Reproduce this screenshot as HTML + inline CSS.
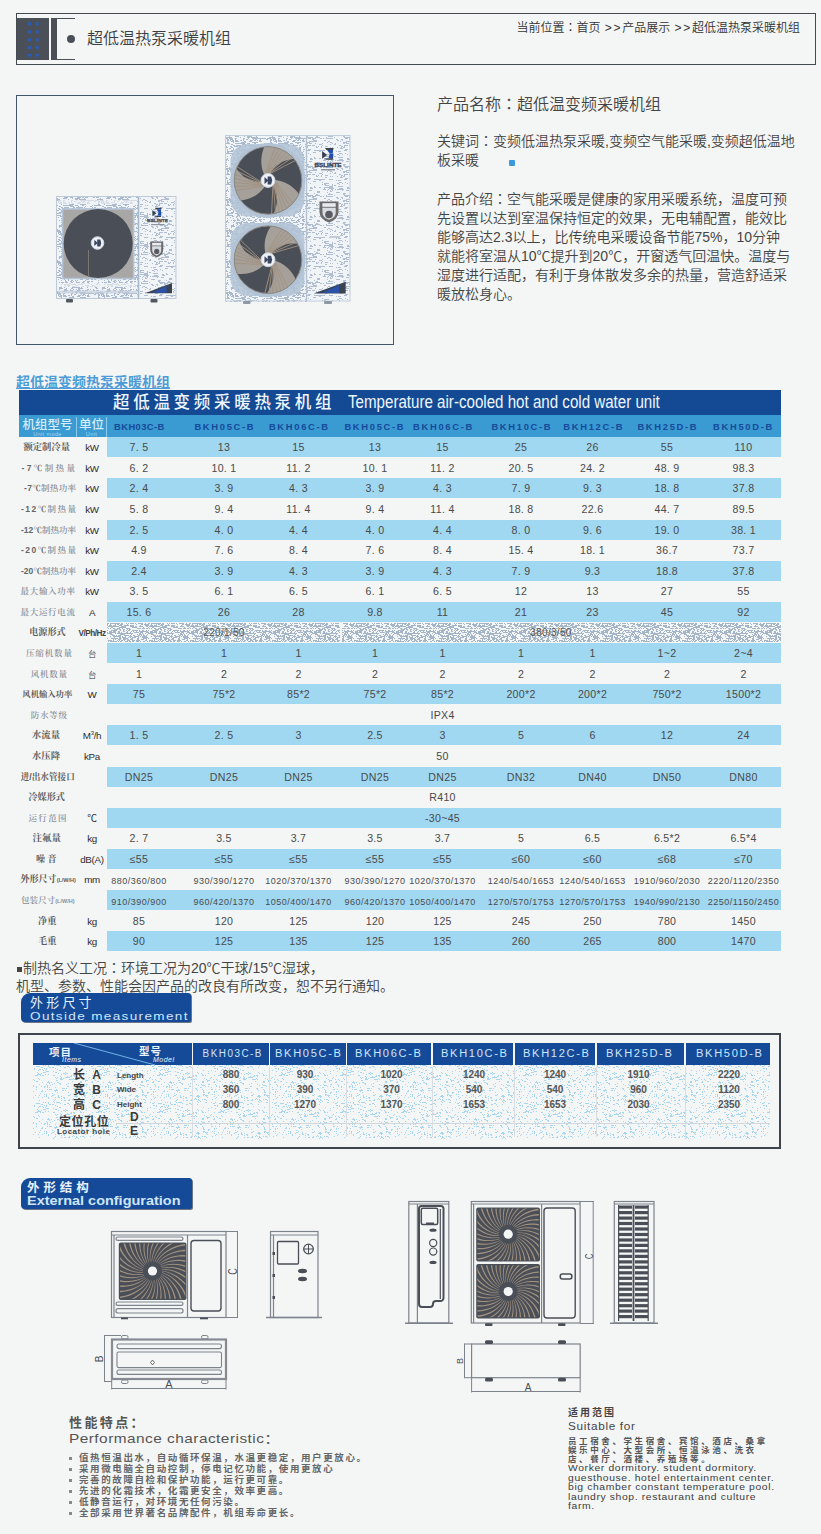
<!DOCTYPE html>
<html lang="zh-CN">
<head>
<meta charset="utf-8">
<title>超低温热泵采暖机组</title>
<style>
html,body{margin:0;padding:0;}
body{width:821px;height:1534px;background:#f4f6f6;position:relative;overflow:hidden;
 font-family:"Liberation Sans","Noto Sans CJK SC",sans-serif;color:#444;}
.abs{position:absolute;}
.jc{font-family:"Noto Sans CJK JP",sans-serif;}
/* header */
#hd{left:16px;top:13px;width:798px;height:50px;border:1px solid #434a52;}
#hd .blk{left:0;top:4px;width:32px;height:42px;background:#4b5058;}
#hd .bar{left:34px;top:4px;width:6px;height:42px;background:#4b5058;}
#hd .l1{left:40px;top:4px;width:18px;height:1px;background:#4b5058;}
#hd .l2{left:40px;top:45px;width:18px;height:1px;background:#4b5058;}
#hd .dot{left:50px;top:21px;width:8px;height:8px;border-radius:50%;background:#4b5058;}
#hd .ttl{font-weight:350;left:70px;top:13px;font-size:16px;line-height:24px;color:#3c3f44;white-space:nowrap;}
#hd .gt{letter-spacing:1.7px;margin-left:1px;}
#hd .crumb{font-weight:350;right:15px;top:4px;font-size:12px;line-height:18px;color:#333;white-space:nowrap;}
/* product */
#pbox{left:16px;top:95px;width:376px;height:248px;border:1px solid #44546a;}
#pname{left:437px;top:91px;font-size:16px;line-height:24px;color:#444;font-weight:350;white-space:nowrap;}
#pkey{font-weight:350;left:437px;top:131px;width:380px;white-space:nowrap;font-size:14px;line-height:19px;color:#444;}
#pintro{font-weight:350;left:437px;top:188.8px;width:380px;white-space:nowrap;font-size:14px;line-height:19px;color:#444;}

/* main table */
#cap{left:16px;top:373px;font-size:14px;line-height:18px;font-weight:bold;color:#4d9cd8;text-decoration:underline;white-space:nowrap;}
#tb{left:19px;top:390px;width:762px;height:560px;}
#tb .tt{left:0;top:0;width:762px;height:25px;background:#144a94;color:#fff;}
#tb .t1{left:94px;top:0px;font-size:16.5px;line-height:24px;font-weight:500;letter-spacing:3.7px;white-space:nowrap;color:#eef6ff;}
#tb .t2{left:329px;top:-0.5px;font-size:17.5px;line-height:24px;white-space:nowrap;transform-origin:0 50%;transform:scaleX(.864);color:#eef6ff;}
#tb .th{left:0;top:25px;width:762px;height:22px;background:#3a9ad2;}
#tb .th .h1{left:0;top:3px;width:57px;text-align:center;font-size:12.5px;line-height:14px;font-weight:500;color:#d4ecfb;letter-spacing:0;white-space:nowrap;}
#tb .th .h2{left:58px;top:3px;width:29px;text-align:center;font-size:12.5px;line-height:14px;font-weight:500;color:#d4ecfb;white-space:nowrap;}
#tb .th i{display:block;font-style:normal;font-weight:normal;font-size:5.5px;line-height:6px;letter-spacing:.4px;color:#a9d8f3;margin-top:-1px;}
#tb .th .vs{top:2px;width:1px;height:20px;background:#8fcdee;}
#tb .th .m{top:.5px;transform:translateX(-50%);font-size:9.4px;line-height:22px;font-weight:bold;color:#174a9a;white-space:nowrap;}
#tb .r{left:0;width:762px;height:20px;}
#tb .r .bg{left:88px;top:0;width:674px;height:20px;}
#tb .r.bl .bg{background:#a0d8f2;}
#tb .r.pw .bg{display:none;}
#tb .r .lb{top:0;font-family:"Liberation Sans","Noto Serif CJK SC",serif;line-height:20px;white-space:nowrap;}
#tb .r .lb.d{font-weight:bold;font-size:9.5px;color:#5c5c5c;}
#tb .r .lb.l{font-weight:600;font-size:8.5px;color:#8a8f96;}
#tb .r .lb b{color:#666;font-weight:bold;}
#tb .r .lb em{font-style:normal;font-size:5.5px;letter-spacing:0;font-family:"Liberation Sans",sans-serif;}
#tb .r .un{left:58px;top:0;width:30px;text-align:center;font-size:9.8px;font-weight:normal;line-height:21px;color:#2c2c2c;white-space:nowrap;letter-spacing:-.3px;}
#tb .r .un u{text-decoration:none;font-size:8.2px;letter-spacing:-.5px;font-weight:bold;color:#444;}
#tb .r .un s{text-decoration:none;font-size:8.5px;color:#666;}
#tb .r .un sup{font-size:6px;line-height:0;}
#tb .r .v{top:0;transform:translateX(-50%);font-size:10.6px;line-height:21px;color:#4a4a4a;white-space:nowrap;letter-spacing:.3px;z-index:2;}
#tb .r.sm .v{font-size:9px;letter-spacing:.5px;top:1.5px;}
#tb .r.pw .v{font-size:10px;color:#555;}

/* notes + outside table */
#note{font-weight:350;left:16px;top:958px;font-size:14px;line-height:18px;color:#444;white-space:nowrap;}
#note .sq{display:inline-block;width:5px;height:5px;background:#444;margin:0 1px 1px 1px;}
.badge{background:#154a98;border-radius:9px 3px 2px 4px;color:#fff;box-shadow:1px 1px 0 #6b7686;overflow:hidden;}
.badge .c{white-space:nowrap;color:#e6f2fd;}
.badge .e{white-space:nowrap;transform-origin:0 50%;color:#cfe6fa;}
#bd1{left:21px;top:993px;width:170px;height:29px;}
#bd1 .c{left:9px;top:2px;font-size:13px;line-height:15px;letter-spacing:3.2px;}
#bd1 .e{left:9px;top:16px;font-size:11px;line-height:14px;letter-spacing:1.1px;transform:scaleX(1.23);}
#ob{left:18px;top:1033px;width:759px;height:112px;border:2px solid #3e444c;}
#ob .body{left:13px;top:30px;width:737px;height:74px;background:#ebf3f7;}
#ob .hc{top:8px;height:22px;background:#154a98;}
#ob .hm{top:8px;transform:translateX(-50%);font-size:10px;line-height:22px;color:#cfe6fa;letter-spacing:1.5px;padding-left:1.5px;white-space:nowrap;}
#ob .hz{font-size:10.5px;line-height:12px;font-weight:bold;color:#e8f4ff;letter-spacing:1px;white-space:nowrap;}
#ob .he{font-style:italic;font-size:7px;line-height:8px;color:#e8f4ff;letter-spacing:.5px;white-space:nowrap;}
#ob .lz{font-size:12px;line-height:14px;font-weight:bold;color:#3a3a3a;letter-spacing:2px;white-space:nowrap;}
#ob .le{font-size:8px;line-height:11px;font-weight:bold;color:#444;white-space:nowrap;}
#ob .ov{transform:translateX(-50%);font-size:10px;line-height:14px;font-weight:bold;color:#555;white-space:nowrap;}
#ob .vl{top:32px;width:1px;height:70px;background:#dadde1;}
#ob .hl{left:96px;width:654px;height:1px;background:#d3d7db;}

/* config */
#bd2{left:21px;top:1178px;width:171px;height:31px;}
#bd2 .c{left:6px;top:3px;font-size:12.5px;line-height:15px;font-weight:bold;letter-spacing:3.9px;}
#bd2 .e{left:6px;top:16px;font-size:12.5px;line-height:15px;font-weight:bold;transform:scaleX(1.157);}

/* footer */
#f1{left:69px;top:1414px;width:320px;height:110px;color:#555;}
#f1 .fh{left:0;top:0;font-size:13px;line-height:17px;font-weight:bold;letter-spacing:2.4px;white-space:nowrap;color:#555;}
#f1 .fe{left:0;top:16px;font-size:13px;line-height:17px;white-space:nowrap;transform-origin:0 50%;transform:scaleX(1.184);letter-spacing:.4px;color:#555;}
#f1 ul{left:0;top:38px;margin:0;padding:0;list-style:none;}
#f1 li{position:relative;padding-left:10px;font-size:9.5px;line-height:11px;font-weight:bold;letter-spacing:1.6px;white-space:nowrap;color:#666;}
#f1 li:before{content:"";position:absolute;left:0;top:5px;width:3px;height:3px;background:#888;}
#f2{left:568px;top:1405px;width:230px;height:110px;color:#444;}
#f2 .fh{left:0;top:1px;font-size:10px;line-height:14px;font-weight:bold;letter-spacing:2px;white-space:nowrap;}
#f2 .fe{left:0;top:15px;font-size:10.5px;line-height:13px;white-space:nowrap;letter-spacing:.6px;transform-origin:0 50%;transform:scaleX(1.12);color:#444;}
#f2 .fc{left:0;top:32px;font-size:8.5px;line-height:9px;font-weight:bold;letter-spacing:2.6px;white-space:nowrap;color:#555;}
#f2 .fn{left:0;top:59px;font-size:9px;line-height:9.6px;letter-spacing:.55px;white-space:nowrap;color:#3c3c3c;transform-origin:0 0;transform:scaleX(1.148);}
#ksq{left:509px;top:160px;width:6px;height:6px;background:#3a9ad9;border-radius:1px;}
</style>
</head>
<body>
<div id="hd" class="abs">
  <div class="abs blk"></div><svg class="abs" style="left:0;top:0" width="60" height="50"><g fill="#2a5bb5"><rect x="10.8" y="8.3" width="3.4" height="3" rx=".6"/><rect x="18.3" y="8.3" width="3.4" height="3" rx=".6"/><rect x="10.8" y="16.2" width="3.4" height="3" rx=".6"/><rect x="18.3" y="16.2" width="3.4" height="3" rx=".6"/><rect x="10.8" y="24.2" width="3.4" height="3" rx=".6"/><rect x="18.3" y="24.2" width="3.4" height="3" rx=".6"/><rect x="10.8" y="32.1" width="3.4" height="3" rx=".6"/><rect x="18.3" y="32.1" width="3.4" height="3" rx=".6"/><rect x="10.8" y="39.8" width="3.4" height="3" rx=".6"/><rect x="18.3" y="39.8" width="3.4" height="3" rx=".6"/></g></svg><div class="abs bar"></div><div class="abs l1"></div><div class="abs l2"></div>
  <div class="abs dot"></div>
  <div class="abs ttl">超低温热泵采暖机组</div>
  <div class="abs crumb">当前位置<span class="jc" lang="ja">：</span>首页 <span class="gt">&gt;&gt;</span>产品展示 <span class="gt">&gt;&gt;</span>超低温热泵采暖机组</div>
</div>
<div id="pbox" class="abs"></div>
<svg id="photo" class="abs" style="left:17px;top:96px" width="376" height="248" viewBox="17 96 376 248">
<defs><pattern id="pd1" width="43" height="31" patternUnits="userSpaceOnUse"><path d="M0 0h3v1h-3zM5 0h2v1h-2zM8 0h2v1h-2zM15 0h1v1h-1zM21 0h1v1h-1zM25 0h1v1h-1zM37 0h3v1h-3zM12 1h1v1h-1zM18 1h1v1h-1zM22 1h1v1h-1zM25 1h1v1h-1zM28 1h2v1h-2zM32 1h1v1h-1zM34 1h1v1h-1zM42 1h1v1h-1zM1 2h3v1h-3zM5 2h2v1h-2zM22 2h2v1h-2zM27 2h2v1h-2zM30 2h1v1h-1zM33 2h1v1h-1zM40 2h2v1h-2zM1 3h2v1h-2zM12 3h1v1h-1zM16 3h1v1h-1zM18 3h3v1h-3zM22 3h3v1h-3zM28 3h2v1h-2zM33 3h4v1h-4zM39 3h2v1h-2zM2 4h2v1h-2zM11 4h2v1h-2zM19 4h1v1h-1zM26 4h2v1h-2zM31 4h1v1h-1zM38 4h1v1h-1zM40 4h2v1h-2zM5 5h1v1h-1zM10 5h2v1h-2zM13 5h1v1h-1zM18 5h1v1h-1zM21 5h6v1h-6zM28 5h5v1h-5zM35 5h5v1h-5zM0 6h3v1h-3zM6 6h3v1h-3zM21 6h2v1h-2zM24 6h3v1h-3zM32 6h3v1h-3zM42 6h1v1h-1zM1 7h2v1h-2zM4 7h3v1h-3zM8 7h2v1h-2zM11 7h1v1h-1zM18 7h1v1h-1zM22 7h1v1h-1zM25 7h2v1h-2zM29 7h3v1h-3zM39 7h2v1h-2zM1 8h1v1h-1zM9 8h2v1h-2zM16 8h3v1h-3zM21 8h1v1h-1zM29 8h8v1h-8zM38 8h1v1h-1zM10 9h2v1h-2zM16 9h4v1h-4zM23 9h1v1h-1zM28 9h2v1h-2zM35 9h5v1h-5zM1 10h2v1h-2zM4 10h1v1h-1zM7 10h1v1h-1zM16 10h1v1h-1zM21 10h3v1h-3zM27 10h1v1h-1zM30 10h1v1h-1zM33 10h1v1h-1zM35 10h2v1h-2zM0 11h2v1h-2zM7 11h2v1h-2zM10 11h3v1h-3zM21 11h4v1h-4zM27 11h3v1h-3zM34 11h4v1h-4zM39 11h2v1h-2zM42 11h1v1h-1zM14 12h1v1h-1zM20 12h4v1h-4zM29 12h1v1h-1zM32 12h5v1h-5zM41 12h1v1h-1zM11 13h6v1h-6zM25 13h1v1h-1zM32 13h3v1h-3zM36 13h7v1h-7zM0 14h8v1h-8zM9 14h4v1h-4zM14 14h4v1h-4zM20 14h2v1h-2zM28 14h2v1h-2zM33 14h1v1h-1zM37 14h6v1h-6zM2 15h1v1h-1zM8 15h2v1h-2zM12 15h2v1h-2zM15 15h3v1h-3zM20 15h1v1h-1zM28 15h1v1h-1zM31 15h2v1h-2zM38 15h1v1h-1zM40 15h2v1h-2zM1 16h2v1h-2zM12 16h2v1h-2zM15 16h1v1h-1zM17 16h2v1h-2zM20 16h3v1h-3zM25 16h2v1h-2zM28 16h1v1h-1zM35 16h3v1h-3zM39 16h2v1h-2zM42 16h1v1h-1zM1 17h3v1h-3zM12 17h1v1h-1zM16 17h3v1h-3zM20 17h4v1h-4zM29 17h2v1h-2zM34 17h3v1h-3zM12 18h2v1h-2zM18 18h1v1h-1zM26 18h5v1h-5zM37 18h6v1h-6zM6 19h1v1h-1zM8 19h7v1h-7zM20 19h10v1h-10zM32 19h3v1h-3zM39 19h2v1h-2zM4 20h2v1h-2zM16 20h2v1h-2zM27 20h4v1h-4zM35 20h1v1h-1zM42 20h1v1h-1zM6 21h1v1h-1zM8 21h2v1h-2zM18 21h2v1h-2zM21 21h5v1h-5zM30 21h2v1h-2zM33 21h7v1h-7zM41 21h1v1h-1zM0 22h1v1h-1zM4 22h2v1h-2zM7 22h2v1h-2zM11 22h1v1h-1zM15 22h2v1h-2zM19 22h4v1h-4zM24 22h2v1h-2zM29 22h2v1h-2zM35 22h2v1h-2zM2 23h1v1h-1zM6 23h1v1h-1zM9 23h4v1h-4zM16 23h2v1h-2zM24 23h4v1h-4zM41 23h2v1h-2zM14 24h2v1h-2zM18 24h1v1h-1zM23 24h2v1h-2zM37 24h3v1h-3zM41 24h2v1h-2zM2 25h2v1h-2zM12 25h1v1h-1zM18 25h1v1h-1zM21 25h4v1h-4zM26 25h5v1h-5zM34 25h1v1h-1zM37 25h2v1h-2zM41 25h2v1h-2zM8 26h3v1h-3zM12 26h1v1h-1zM16 26h3v1h-3zM25 26h2v1h-2zM28 26h2v1h-2zM36 26h5v1h-5zM42 26h1v1h-1zM2 27h1v1h-1zM5 27h5v1h-5zM12 27h6v1h-6zM20 27h3v1h-3zM24 27h1v1h-1zM26 27h1v1h-1zM29 27h1v1h-1zM36 27h1v1h-1zM41 27h1v1h-1zM1 28h1v1h-1zM7 28h1v1h-1zM12 28h2v1h-2zM22 28h2v1h-2zM34 28h1v1h-1zM40 28h1v1h-1zM1 29h1v1h-1zM5 29h4v1h-4zM10 29h8v1h-8zM22 29h3v1h-3zM26 29h1v1h-1zM30 29h1v1h-1zM32 29h1v1h-1zM35 29h2v1h-2zM41 29h1v1h-1zM1 30h2v1h-2zM6 30h1v1h-1zM8 30h3v1h-3zM17 30h2v1h-2zM21 30h2v1h-2zM24 30h1v1h-1zM31 30h1v1h-1zM35 30h2v1h-2zM41 30h2v1h-2z" fill="#aab9cc"/></pattern><pattern id="pd2" width="37" height="29" patternUnits="userSpaceOnUse"><path d="M6 0h2v1h-2zM11 0h4v1h-4zM16 0h3v1h-3zM26 0h1v1h-1zM8 1h2v1h-2zM11 1h1v1h-1zM20 1h1v1h-1zM22 1h1v1h-1zM25 1h1v1h-1zM29 1h3v1h-3zM4 2h1v1h-1zM8 2h1v1h-1zM10 2h2v1h-2zM20 2h2v1h-2zM25 2h1v1h-1zM34 2h1v1h-1zM36 2h1v1h-1zM7 3h3v1h-3zM29 3h2v1h-2zM12 4h3v1h-3zM11 5h3v1h-3zM18 5h11v1h-11zM33 5h4v1h-4zM3 6h1v1h-1zM5 6h3v1h-3zM23 6h2v1h-2zM17 7h3v1h-3zM6 8h3v1h-3zM12 8h1v1h-1zM26 8h1v1h-1zM4 9h2v1h-2zM9 9h1v1h-1zM14 9h1v1h-1zM28 9h5v1h-5zM6 10h1v1h-1zM26 10h1v1h-1zM28 10h2v1h-2zM36 10h1v1h-1zM1 11h2v1h-2zM29 11h4v1h-4zM36 11h1v1h-1zM5 12h5v1h-5zM18 12h1v1h-1zM33 12h4v1h-4zM14 13h2v1h-2zM18 13h2v1h-2zM23 13h2v1h-2zM28 13h9v1h-9zM0 14h1v1h-1zM6 14h4v1h-4zM14 14h3v1h-3zM28 14h1v1h-1zM33 14h4v1h-4zM2 15h1v1h-1zM4 15h7v1h-7zM27 15h3v1h-3zM32 15h1v1h-1zM35 15h2v1h-2zM9 16h1v1h-1zM13 16h3v1h-3zM31 16h1v1h-1zM34 16h1v1h-1zM36 16h1v1h-1zM21 17h3v1h-3zM34 17h2v1h-2zM3 18h4v1h-4zM21 18h3v1h-3zM31 18h1v1h-1zM10 19h3v1h-3zM18 19h1v1h-1zM33 19h1v1h-1zM10 20h2v1h-2zM20 20h2v1h-2zM32 20h5v1h-5zM1 21h1v1h-1zM11 21h6v1h-6zM19 21h5v1h-5zM30 21h1v1h-1zM12 22h3v1h-3zM16 22h4v1h-4zM24 22h2v1h-2zM27 22h1v1h-1zM30 22h7v1h-7zM3 23h2v1h-2zM8 23h2v1h-2zM16 23h2v1h-2zM4 24h2v1h-2zM9 24h1v1h-1zM17 24h4v1h-4zM28 24h2v1h-2zM7 25h1v1h-1zM13 25h8v1h-8zM32 25h2v1h-2zM10 26h4v1h-4zM31 26h1v1h-1zM34 26h2v1h-2zM2 27h1v1h-1zM10 27h2v1h-2zM13 27h3v1h-3zM19 27h1v1h-1zM26 27h1v1h-1zM36 27h1v1h-1zM1 28h2v1h-2zM23 28h3v1h-3zM34 28h1v1h-1z" fill="#b0bed0"/></pattern></defs>
<rect x="56" y="196" width="120.5" height="103" fill="#f1f4f6"/><rect x="56" y="196" width="83" height="103" fill="url(#pd1)" shape-rendering="crispEdges"/>
<rect x="139.5" y="197" width="36" height="101" fill="url(#pd2)" shape-rendering="crispEdges"/>
<rect x="56.5" y="196.5" width="119.5" height="102" fill="none" stroke="#bfcad8" stroke-width="1"/>
<line x1="138.5" y1="197" x2="138.5" y2="299" stroke="#a9b9cc" stroke-width="1.6"/>
<rect x="62.6" y="209" width="71" height="69.5" fill="#a9a7a6" stroke="#b3c3d6" stroke-width="1.6"/>
<rect x="58" y="200" width="79" height="4" fill="#f1f4f6" opacity=".6"/>
<rect x="58" y="283" width="79" height="4" fill="#f1f4f6" opacity=".6"/><rect x="58" y="290.500" width="79" height="3" fill="#c3cedb" opacity=".7"/>
<circle cx="98.2" cy="243.5" r="34.5" fill="#4a4f57"/>
<line x1="88.5" y1="250" x2="88.5" y2="277" stroke="#7d7772" stroke-width="1"/>
<circle cx="97.5" cy="243.0" r="6.3" fill="#eef2f6" stroke="#c9d3de" stroke-width="1"/><path d="M94.3 239.8l3.5 3.1l-3.5 3.1z" fill="#3a4560"/><path d="M97.2 239.5h3.1l0.9 3.5l-0.9 3.5h-3.1z" fill="#3a4560"/>
<path transform="translate(152.4 207.7)" d="M2.4 0.0H9.2L8.8 1.6H3.4z" fill="#3a4050"/><path transform="translate(152.4 207.7)" d="M0.0 2.4L4.0 5.6L0.0 8.6z" fill="#3a4050"/><path transform="translate(152.4 207.7)" d="M1.6 8.6L8.8 8.0L8.5 9.3H3.2z" fill="#3a4050"/><path transform="translate(152.4 207.7)" d="M4.0 1.6H8.8L8.5 4.4H6.0z" fill="#1f4fae"/><path transform="translate(152.4 207.7)" d="M6.0 4.4H9.0L8.8 8.0L5.2 8.0z" fill="#1f4fae"/>
<text x="157.500" y="222.3" font-size="4.2" font-weight="bold" font-family="Liberation Sans, sans-serif" text-anchor="middle" fill="#3d4352" stroke="#3d4352" stroke-width=".25" textLength="21" lengthAdjust="spacingAndGlyphs">BSLINTE</text><rect x="151" y="224" width="13" height="1.2" fill="#8d95a3"/>
<path d="M150.2 241.5h13.0v8.0q0 5.6 -6.5 8.0q-6.5 -2.4 -6.5 -8.0z" fill="#6d6a6c"/><path d="M152.1 246.3h9.1v4.0q0 3.5 -4.5 5.1q-4.5 -1.6 -4.5 -5.1z" fill="#d8dde3"/><rect x="152.1" y="242.8" width="9.1" height="2.7" fill="#e8ecf0"/><circle cx="156.7" cy="251.4" r="2.6" fill="#5b5a60"/>
<path d="M144.8 293.3L172.0 283.0V293.3z" fill="#3b4252"/><path d="M151.6 292.7L166.6 285.9L166.6 292.7z" fill="#2a52a8"/>
<rect x="66" y="299" width="7" height="3.5" rx="1" fill="#53585f"/><rect x="150.5" y="299" width="7" height="3.5" rx="1" fill="#53585f"/>
<rect x="225" y="135" width="125.5" height="166.5" fill="#f1f4f6"/><rect x="225" y="135" width="82" height="166.5" fill="url(#pd1)" shape-rendering="crispEdges"/>
<rect x="307" y="136" width="43" height="164.5" fill="url(#pd2)" shape-rendering="crispEdges"/>
<rect x="225.5" y="135.5" width="124.5" height="165.5" fill="none" stroke="#c3cedb" stroke-width="1"/>
<line x1="306.5" y1="136" x2="306.5" y2="301" stroke="#b4c2d3" stroke-width="1.4"/>
<rect x="230.5" y="144" width="74" height="72.5" rx="17" fill="#b3c3d6" opacity=".85"/><circle cx="268" cy="180.4" r="37.5" fill="#b3c3d6"/>
<rect x="230.5" y="223" width="74" height="73" rx="17" fill="#b3c3d6" opacity=".85"/><circle cx="268" cy="259.7" r="37.5" fill="#b3c3d6"/>
<clipPath id="f1"><circle cx="268.0" cy="180.4" r="33.8"/></clipPath>
<circle cx="268.0" cy="180.4" r="33.8" fill="#4a4f57"/>
<g clip-path="url(#f1)">
<path d="M266.0 177.7 L264.7 175.3 L263.5 172.9 L262.6 170.3 L261.9 167.7 L261.5 165.0 L261.3 162.2 L261.3 159.3 L261.6 156.5 L262.1 153.6 L262.9 150.7 L263.9 147.8 L265.2 145.0 L269.6 144.9 L274.0 145.4 L278.3 146.5 L282.5 148.0 L286.4 150.1 L290.1 152.6 L293.4 155.6 L296.3 158.9 L292.9 159.1 L289.7 159.5 L286.6 160.2 L283.7 161.2 L281.0 162.5 L278.5 164.0 L276.2 165.8 L274.2 167.7 L272.4 169.9 L270.9 172.2 L269.7 174.6 L268.7 177.1Z" fill="#a6a09a"/>
<line x1="264.9" y1="174.4" x2="275.4" y2="147.4" stroke="#a39280" stroke-width=".9"/>
<line x1="265.6" y1="174.1" x2="279.3" y2="148.5" stroke="#a39280" stroke-width=".9"/>
<line x1="266.4" y1="173.8" x2="283.0" y2="150.1" stroke="#a39280" stroke-width=".9"/>
<line x1="267.2" y1="173.7" x2="286.5" y2="152.1" stroke="#a39280" stroke-width=".9"/>
<line x1="268.0" y1="173.6" x2="289.8" y2="154.6" stroke="#a39280" stroke-width=".9"/>
<line x1="268.8" y1="173.7" x2="292.7" y2="157.4" stroke="#a39280" stroke-width=".9"/>
<line x1="269.6" y1="173.8" x2="295.3" y2="160.5" stroke="#a39280" stroke-width=".9"/>
<path d="M271.4 180.0 L274.0 180.0 L276.7 180.3 L279.4 180.8 L282.0 181.5 L284.6 182.5 L287.2 183.7 L289.6 185.1 L291.9 186.8 L294.2 188.7 L296.3 190.8 L298.2 193.1 L300.0 195.7 L297.9 199.5 L295.3 203.1 L292.2 206.3 L288.8 209.2 L285.1 211.5 L281.0 213.4 L276.8 214.8 L272.5 215.6 L274.0 212.7 L275.3 209.7 L276.2 206.6 L276.7 203.6 L277.0 200.6 L276.9 197.7 L276.5 194.8 L275.9 192.1 L274.9 189.5 L273.7 187.0 L272.2 184.8 L270.5 182.7Z" fill="#a6a09a"/>
<line x1="274.8" y1="180.7" x2="292.9" y2="203.3" stroke="#a39280" stroke-width=".9"/>
<line x1="274.7" y1="181.5" x2="289.9" y2="206.1" stroke="#a39280" stroke-width=".9"/>
<line x1="274.5" y1="182.3" x2="286.7" y2="208.6" stroke="#a39280" stroke-width=".9"/>
<line x1="274.2" y1="183.1" x2="283.2" y2="210.6" stroke="#a39280" stroke-width=".9"/>
<line x1="273.9" y1="183.8" x2="279.5" y2="212.2" stroke="#a39280" stroke-width=".9"/>
<line x1="273.4" y1="184.5" x2="275.6" y2="213.3" stroke="#a39280" stroke-width=".9"/>
<line x1="272.9" y1="185.1" x2="271.6" y2="214.0" stroke="#a39280" stroke-width=".9"/>
<path d="M266.6 183.5 L265.3 185.8 L263.7 188.0 L262.0 190.1 L260.0 192.0 L257.9 193.8 L255.6 195.4 L253.1 196.7 L250.5 197.9 L247.7 198.9 L244.8 199.7 L241.9 200.2 L238.8 200.5 L236.5 196.7 L234.7 192.7 L233.4 188.4 L232.7 184.0 L232.5 179.6 L232.9 175.2 L233.8 170.9 L235.3 166.7 L237.1 169.5 L239.0 172.1 L241.2 174.3 L243.5 176.4 L246.0 178.1 L248.6 179.5 L251.2 180.6 L254.0 181.4 L256.7 181.9 L259.4 182.0 L262.1 181.9 L264.8 181.4Z" fill="#a6a09a"/>
<line x1="264.4" y1="186.1" x2="235.7" y2="190.5" stroke="#a39280" stroke-width=".9"/>
<line x1="263.7" y1="185.6" x2="234.8" y2="186.5" stroke="#a39280" stroke-width=".9"/>
<line x1="263.1" y1="185.1" x2="234.3" y2="182.5" stroke="#a39280" stroke-width=".9"/>
<line x1="262.6" y1="184.5" x2="234.3" y2="178.5" stroke="#a39280" stroke-width=".9"/>
<line x1="262.1" y1="183.8" x2="234.7" y2="174.4" stroke="#a39280" stroke-width=".9"/>
<line x1="261.8" y1="183.0" x2="235.7" y2="170.5" stroke="#a39280" stroke-width=".9"/>
<line x1="261.5" y1="182.3" x2="237.1" y2="166.7" stroke="#a39280" stroke-width=".9"/>
</g>
<circle cx="268.0" cy="180.4" r="33.8" fill="none" stroke="#8f8a84" stroke-width="1"/>
<clipPath id="f2"><circle cx="268.0" cy="259.7" r="33.8"/></clipPath>
<circle cx="268.0" cy="259.7" r="33.8" fill="#4a4f57"/>
<g clip-path="url(#f2)">
<path d="M266.6 256.6 L265.7 254.1 L265.1 251.5 L264.7 248.8 L264.6 246.0 L264.7 243.3 L265.0 240.5 L265.6 237.7 L266.5 235.0 L267.5 232.2 L268.9 229.6 L270.5 227.0 L272.3 224.5 L276.6 225.3 L280.9 226.6 L284.9 228.5 L288.6 230.8 L292.1 233.6 L295.1 236.8 L297.8 240.4 L300.0 244.3 L296.7 243.7 L293.4 243.5 L290.3 243.6 L287.2 244.1 L284.3 244.8 L281.5 245.8 L279.0 247.0 L276.6 248.5 L274.4 250.3 L272.5 252.2 L270.8 254.3 L269.4 256.6Z" fill="#a6a09a"/>
<line x1="266.1" y1="253.2" x2="281.8" y2="228.8" stroke="#a39280" stroke-width=".9"/>
<line x1="266.9" y1="253.0" x2="285.4" y2="230.7" stroke="#a39280" stroke-width=".9"/>
<line x1="267.7" y1="252.9" x2="288.7" y2="233.0" stroke="#a39280" stroke-width=".9"/>
<line x1="268.5" y1="253.0" x2="291.8" y2="235.7" stroke="#a39280" stroke-width=".9"/>
<line x1="269.3" y1="253.1" x2="294.5" y2="238.7" stroke="#a39280" stroke-width=".9"/>
<line x1="270.1" y1="253.3" x2="296.8" y2="242.0" stroke="#a39280" stroke-width=".9"/>
<line x1="270.9" y1="253.6" x2="298.7" y2="245.6" stroke="#a39280" stroke-width=".9"/>
<path d="M271.4 260.0 L274.0 260.5 L276.6 261.3 L279.1 262.3 L281.5 263.6 L283.9 265.0 L286.1 266.7 L288.2 268.6 L290.2 270.7 L292.0 273.0 L293.7 275.5 L295.1 278.2 L296.4 281.0 L293.5 284.4 L290.2 287.4 L286.6 289.9 L282.7 292.0 L278.5 293.6 L274.2 294.6 L269.8 295.1 L265.4 295.1 L267.5 292.5 L269.3 289.8 L270.8 287.0 L271.9 284.2 L272.8 281.3 L273.3 278.4 L273.5 275.5 L273.4 272.7 L273.0 270.0 L272.3 267.3 L271.3 264.8 L270.0 262.4Z" fill="#a6a09a"/>
<line x1="274.6" y1="261.3" x2="287.8" y2="287.1" stroke="#a39280" stroke-width=".9"/>
<line x1="274.3" y1="262.1" x2="284.4" y2="289.3" stroke="#a39280" stroke-width=".9"/>
<line x1="274.0" y1="262.8" x2="280.7" y2="291.0" stroke="#a39280" stroke-width=".9"/>
<line x1="273.6" y1="263.5" x2="276.9" y2="292.3" stroke="#a39280" stroke-width=".9"/>
<line x1="273.1" y1="264.2" x2="272.9" y2="293.1" stroke="#a39280" stroke-width=".9"/>
<line x1="272.5" y1="264.8" x2="268.9" y2="293.5" stroke="#a39280" stroke-width=".9"/>
<line x1="271.9" y1="265.3" x2="264.8" y2="293.4" stroke="#a39280" stroke-width=".9"/>
<path d="M266.0 262.5 L264.3 264.5 L262.3 266.3 L260.2 268.0 L257.9 269.5 L255.4 270.8 L252.9 271.9 L250.2 272.8 L247.4 273.4 L244.4 273.8 L241.5 274.0 L238.4 273.9 L235.4 273.6 L233.9 269.4 L232.9 265.1 L232.5 260.7 L232.7 256.3 L233.4 251.9 L234.6 247.6 L236.4 243.6 L238.7 239.7 L239.8 242.9 L241.3 245.8 L242.9 248.4 L244.8 250.9 L246.9 253.0 L249.2 254.9 L251.5 256.6 L254.0 257.9 L256.6 258.9 L259.3 259.6 L262.0 260.0 L264.6 260.0Z" fill="#a6a09a"/>
<line x1="263.3" y1="264.6" x2="234.4" y2="263.2" stroke="#a39280" stroke-width=".9"/>
<line x1="262.8" y1="264.0" x2="234.2" y2="259.1" stroke="#a39280" stroke-width=".9"/>
<line x1="262.3" y1="263.3" x2="234.5" y2="255.1" stroke="#a39280" stroke-width=".9"/>
<line x1="261.9" y1="262.6" x2="235.3" y2="251.1" stroke="#a39280" stroke-width=".9"/>
<line x1="261.6" y1="261.8" x2="236.6" y2="247.3" stroke="#a39280" stroke-width=".9"/>
<line x1="261.4" y1="261.1" x2="238.3" y2="243.6" stroke="#a39280" stroke-width=".9"/>
<line x1="261.3" y1="260.3" x2="240.4" y2="240.1" stroke="#a39280" stroke-width=".9"/>
</g>
<circle cx="268.0" cy="259.7" r="33.8" fill="none" stroke="#8f8a84" stroke-width="1"/>
<circle cx="268.0" cy="180.4" r="7.0" fill="#eef2f6" stroke="#c9d3de" stroke-width="1"/><path d="M264.5 176.9l3.9 3.5l-3.9 3.5z" fill="#3a4560"/><path d="M267.6 176.6h3.5l1.1 3.9l-1.1 3.9h-3.5z" fill="#3a4560"/>
<circle cx="268.0" cy="259.7" r="7.0" fill="#eef2f6" stroke="#c9d3de" stroke-width="1"/><path d="M264.5 256.2l3.9 3.5l-3.9 3.5z" fill="#3a4560"/><path d="M267.6 255.8h3.5l1.1 3.9l-1.1 3.9h-3.5z" fill="#3a4560"/>
<path transform="translate(322.1 148.1)" d="M3.0 0.0H11.5L11.0 2.0H4.3z" fill="#3a4050"/><path transform="translate(322.1 148.1)" d="M0.0 3.0L5.0 7.0L0.0 10.7z" fill="#3a4050"/><path transform="translate(322.1 148.1)" d="M2.0 10.7L11.0 10.0L10.6 11.6H4.0z" fill="#3a4050"/><path transform="translate(322.1 148.1)" d="M5.0 2.0H11.0L10.6 5.5H7.5z" fill="#1f4fae"/><path transform="translate(322.1 148.1)" d="M7.5 5.5H11.3L11.0 10.0L6.5 10.0z" fill="#1f4fae"/>
<text x="328" y="167.3" font-size="5" font-weight="bold" font-family="Liberation Sans, sans-serif" text-anchor="middle" fill="#3d4352" stroke="#3d4352" stroke-width=".3" textLength="27" lengthAdjust="spacingAndGlyphs">BSLINTE</text><rect x="321" y="169" width="14" height="1.5" fill="#8d95a3"/>
<path d="M319.5 201.5h19.0v10.5q0 7.3 -9.5 10.5q-9.5 -3.1 -9.5 -10.5z" fill="#6d6a6c"/><path d="M322.4 207.8h13.3v5.2q0 4.6 -6.6 6.7q-6.6 -2.1 -6.6 -6.7z" fill="#d8dde3"/><rect x="322.4" y="203.2" width="13.3" height="3.6" fill="#e8ecf0"/><circle cx="329.0" cy="214.5" r="3.8" fill="#5b5a60"/>
<rect x="330" y="236" width="10" height="2" fill="#c5ccd6"/>
<path d="M313.7 293.5L345.7 281.8V293.5z" fill="#3b4252"/><path d="M321.7 292.9L339.3 285.1L339.3 292.9z" fill="#2a52a8"/>
<rect x="243" y="301" width="7.5" height="3" rx="1" fill="#8f98a5"/><rect x="324" y="301" width="8" height="3" rx="1" fill="#8f98a5"/>
</svg>
<div id="ksq" class="abs"></div>
<div id="pname" class="abs">产品名称<span class="jc" lang="ja">：</span>超低温变频采暖机组</div>
<div id="pkey" class="abs">关键词<span class="jc" lang="ja">：</span>变频低温热泵采暖,变频空气能采暖,变频超低温地<br>板采暖</div>
<div id="pintro" class="abs">产品介绍<span class="jc" lang="ja">：</span>空气能采暖是健康的家用采暖系统，温度可预<br>先设置以达到室温保持恒定的效果，无电辅配置，能效比<br>能够高达2.3以上，比传统电采暖设备节能75%，10分钟<br>就能将室温从10℃提升到20℃，开窗透气回温快。温度与<br>湿度进行适配，有利于身体散发多余的热量，营造舒适采<br>暖放松身心。</div>
<div id="cap" class="abs">超低温变频热泵采暖机组</div>
<div id="tb" class="abs">
<div class="abs tt"><span class="abs t1">超低温变频采暖热泵机组</span><span class="abs t2">Temperature air-cooled hot and cold water unit</span></div>
<div class="abs th">
<span class="abs h1">机组型号<i>Unit mode</i></span><b class="abs vs" style="left:57px"></b><span class="abs h2">单位<i>Unit</i></span><b class="abs vs" style="left:87px"></b>
<span class="abs m" style="left:120.2px;letter-spacing:0.40px;padding-left:0.40px">BKH03C-B</span>
<span class="abs m" style="left:205.0px;letter-spacing:1.68px;padding-left:1.68px">BKH05C-B</span>
<span class="abs m" style="left:279.5px;letter-spacing:1.68px;padding-left:1.68px">BKH06C-B</span>
<span class="abs m" style="left:355.0px;letter-spacing:1.68px;padding-left:1.68px">BKH05C-B</span>
<span class="abs m" style="left:423.7px;letter-spacing:1.68px;padding-left:1.68px">BKH06C-B</span>
<span class="abs m" style="left:502.0px;letter-spacing:1.68px;padding-left:1.68px">BKH10C-B</span>
<span class="abs m" style="left:573.9px;letter-spacing:1.68px;padding-left:1.68px">BKH12C-B</span>
<span class="abs m" style="left:648.0px;letter-spacing:1.68px;padding-left:1.68px">BKH25D-B</span>
<span class="abs m" style="left:723.7px;letter-spacing:1.68px;padding-left:1.68px">BKH50D-B</span>
</div>
<div class="abs r bl" style="top:47.2px">
<span id="lb0" class="abs lb d" style="left:4.5px;letter-spacing:0.00px;font-size:9.30px">额定制冷量</span><span class="abs un">kW</span><div class="abs bg"></div>
<span class="abs v" style="left:120.0px">7. 5</span>
<span class="abs v" style="left:205.0px">13</span>
<span class="abs v" style="left:279.5px">15</span>
<span class="abs v" style="left:356.0px">13</span>
<span class="abs v" style="left:423.5px">15</span>
<span class="abs v" style="left:502.0px">25</span>
<span class="abs v" style="left:573.5px">26</span>
<span class="abs v" style="left:648.0px">55</span>
<span class="abs v" style="left:724.5px">110</span>
</div>
<div class="abs r" style="top:67.8px">
<span id="lb1" class="abs lb l" style="left:2.5px;letter-spacing:2.38px"><b>-7℃</b>制热量</span><span class="abs un">kW</span><div class="abs bg"></div>
<span class="abs v" style="left:120.0px">6. 2</span>
<span class="abs v" style="left:205.0px">10. 1</span>
<span class="abs v" style="left:279.5px">11. 2</span>
<span class="abs v" style="left:356.0px">10. 1</span>
<span class="abs v" style="left:423.5px">11. 2</span>
<span class="abs v" style="left:502.0px">20. 5</span>
<span class="abs v" style="left:573.5px">24. 2</span>
<span class="abs v" style="left:648.0px">48. 9</span>
<span class="abs v" style="left:724.5px">98.3</span>
</div>
<div class="abs r bl" style="top:88.4px">
<span id="lb2" class="abs lb l" style="left:5.0px;letter-spacing:0.32px"><b>-7℃</b>制热功率</span><span class="abs un">kW</span><div class="abs bg"></div>
<span class="abs v" style="left:120.0px">2. 4</span>
<span class="abs v" style="left:205.0px">3. 9</span>
<span class="abs v" style="left:279.5px">4. 3</span>
<span class="abs v" style="left:356.0px">3. 9</span>
<span class="abs v" style="left:423.5px">4. 3</span>
<span class="abs v" style="left:502.0px">7. 9</span>
<span class="abs v" style="left:573.5px">9. 3</span>
<span class="abs v" style="left:648.0px">18. 8</span>
<span class="abs v" style="left:724.5px">37.8</span>
</div>
<div class="abs r" style="top:108.9px">
<span id="lb3" class="abs lb l" style="left:2.0px;letter-spacing:1.45px"><b>-12℃</b>制热量</span><span class="abs un">kW</span><div class="abs bg"></div>
<span class="abs v" style="left:120.0px">5. 8</span>
<span class="abs v" style="left:205.0px">9. 4</span>
<span class="abs v" style="left:279.5px">11. 4</span>
<span class="abs v" style="left:356.0px">9. 4</span>
<span class="abs v" style="left:423.5px">11. 4</span>
<span class="abs v" style="left:502.0px">18. 8</span>
<span class="abs v" style="left:573.5px">22.6</span>
<span class="abs v" style="left:648.0px">44. 7</span>
<span class="abs v" style="left:724.5px">89.5</span>
</div>
<div class="abs r bl" style="top:129.5px">
<span id="lb4" class="abs lb l" style="left:2.0px;letter-spacing:0.03px"><b>-12℃</b>制热功率</span><span class="abs un">kW</span><div class="abs bg"></div>
<span class="abs v" style="left:120.0px">2. 5</span>
<span class="abs v" style="left:205.0px">4. 0</span>
<span class="abs v" style="left:279.5px">4. 4</span>
<span class="abs v" style="left:356.0px">4. 0</span>
<span class="abs v" style="left:423.5px">4. 4</span>
<span class="abs v" style="left:502.0px">8. 0</span>
<span class="abs v" style="left:573.5px">9. 6</span>
<span class="abs v" style="left:648.0px">19. 0</span>
<span class="abs v" style="left:724.5px">38. 1</span>
</div>
<div class="abs r" style="top:150.1px">
<span id="lb5" class="abs lb l" style="left:2.0px;letter-spacing:1.45px"><b>-20℃</b>制热量</span><span class="abs un">kW</span><div class="abs bg"></div>
<span class="abs v" style="left:120.0px">4.9</span>
<span class="abs v" style="left:205.0px">7. 6</span>
<span class="abs v" style="left:279.5px">8. 4</span>
<span class="abs v" style="left:356.0px">7. 6</span>
<span class="abs v" style="left:423.5px">8. 4</span>
<span class="abs v" style="left:502.0px">15. 4</span>
<span class="abs v" style="left:573.5px">18. 1</span>
<span class="abs v" style="left:648.0px">36.7</span>
<span class="abs v" style="left:724.5px">73.7</span>
</div>
<div class="abs r bl" style="top:170.7px">
<span id="lb6" class="abs lb l" style="left:2.0px;letter-spacing:0.03px"><b>-20℃</b>制热功率</span><span class="abs un">kW</span><div class="abs bg"></div>
<span class="abs v" style="left:120.0px">2.4</span>
<span class="abs v" style="left:205.0px">3. 9</span>
<span class="abs v" style="left:279.5px">4. 3</span>
<span class="abs v" style="left:356.0px">3. 9</span>
<span class="abs v" style="left:423.5px">4. 3</span>
<span class="abs v" style="left:502.0px">7. 9</span>
<span class="abs v" style="left:573.5px">9.3</span>
<span class="abs v" style="left:648.0px">18.8</span>
<span class="abs v" style="left:724.5px">37.8</span>
</div>
<div class="abs r" style="top:191.3px">
<span id="lb7" class="abs lb l" style="left:1.5px;letter-spacing:0.70px">最大输入功率</span><span class="abs un">kW</span><div class="abs bg"></div>
<span class="abs v" style="left:120.0px">3. 5</span>
<span class="abs v" style="left:205.0px">6. 1</span>
<span class="abs v" style="left:279.5px">6. 5</span>
<span class="abs v" style="left:356.0px">6. 1</span>
<span class="abs v" style="left:423.5px">6. 5</span>
<span class="abs v" style="left:502.0px">12</span>
<span class="abs v" style="left:573.5px">13</span>
<span class="abs v" style="left:648.0px">27</span>
<span class="abs v" style="left:724.5px">55</span>
</div>
<div class="abs r bl" style="top:211.8px">
<span id="lb8" class="abs lb l" style="left:1.5px;letter-spacing:0.70px">最大运行电流</span><span class="abs un">A</span><div class="abs bg"></div>
<span class="abs v" style="left:120.0px">15. 6</span>
<span class="abs v" style="left:205.0px">26</span>
<span class="abs v" style="left:279.5px">28</span>
<span class="abs v" style="left:356.0px">9.8</span>
<span class="abs v" style="left:423.5px">11</span>
<span class="abs v" style="left:502.0px">21</span>
<span class="abs v" style="left:573.5px">23</span>
<span class="abs v" style="left:648.0px">45</span>
<span class="abs v" style="left:724.5px">92</span>
</div>
<div class="abs r pw" style="top:232.4px">
<span id="lb9" class="abs lb d" style="left:10.2px;letter-spacing:0.00px;font-size:9.10px">电源形式</span><span class="abs un"><u>V/Ph/Hz</u></span><div class="abs bg"></div>
<svg class="abs" style="left:88px;top:1px" width="674" height="19" shape-rendering="crispEdges"><defs><pattern id="dz" width="41" height="19" patternUnits="userSpaceOnUse"><path d="M0 0h2v1h-2zM3 0h10v1h-10zM14 0h2v1h-2zM19 0h1v1h-1zM21 0h1v1h-1zM23 0h4v1h-4zM28 0h1v1h-1zM31 0h5v1h-5zM38 0h1v1h-1zM0 1h1v1h-1zM3 1h1v1h-1zM8 1h1v1h-1zM10 1h2v1h-2zM13 1h3v1h-3zM20 1h1v1h-1zM29 1h1v1h-1zM34 1h2v1h-2zM37 1h4v1h-4zM0 2h1v1h-1zM2 2h3v1h-3zM6 2h3v1h-3zM12 2h3v1h-3zM17 2h5v1h-5zM23 2h4v1h-4zM33 2h1v1h-1zM38 2h3v1h-3zM1 3h11v1h-11zM14 3h5v1h-5zM23 3h4v1h-4zM28 3h2v1h-2zM32 3h4v1h-4zM39 3h2v1h-2zM0 4h1v1h-1zM4 4h2v1h-2zM12 4h7v1h-7zM25 4h5v1h-5zM36 4h1v1h-1zM1 5h1v1h-1zM3 5h1v1h-1zM6 5h2v1h-2zM10 5h3v1h-3zM15 5h1v1h-1zM19 5h4v1h-4zM30 5h4v1h-4zM35 5h3v1h-3zM39 5h2v1h-2zM7 6h4v1h-4zM12 6h2v1h-2zM16 6h2v1h-2zM20 6h1v1h-1zM22 6h2v1h-2zM0 7h1v1h-1zM4 7h6v1h-6zM13 7h1v1h-1zM16 7h1v1h-1zM19 7h1v1h-1zM21 7h2v1h-2zM25 7h6v1h-6zM32 7h1v1h-1zM35 7h2v1h-2zM39 7h1v1h-1zM2 8h3v1h-3zM6 8h3v1h-3zM11 8h2v1h-2zM16 8h2v1h-2zM20 8h1v1h-1zM24 8h1v1h-1zM26 8h1v1h-1zM29 8h1v1h-1zM32 8h9v1h-9zM0 9h1v1h-1zM2 9h7v1h-7zM11 9h2v1h-2zM14 9h1v1h-1zM19 9h2v1h-2zM23 9h1v1h-1zM27 9h5v1h-5zM33 9h3v1h-3zM39 9h2v1h-2zM0 10h5v1h-5zM8 10h1v1h-1zM10 10h16v1h-16zM32 10h2v1h-2zM35 10h1v1h-1zM38 10h1v1h-1zM3 11h3v1h-3zM13 11h5v1h-5zM24 11h1v1h-1zM30 11h1v1h-1zM32 11h3v1h-3zM36 11h1v1h-1zM40 11h1v1h-1zM5 12h3v1h-3zM9 12h1v1h-1zM11 12h3v1h-3zM17 12h5v1h-5zM23 12h1v1h-1zM26 12h2v1h-2zM31 12h2v1h-2zM34 12h1v1h-1zM36 12h2v1h-2zM39 12h1v1h-1zM3 13h1v1h-1zM6 13h8v1h-8zM15 13h1v1h-1zM18 13h1v1h-1zM22 13h3v1h-3zM27 13h5v1h-5zM33 13h1v1h-1zM35 13h5v1h-5zM7 14h1v1h-1zM12 14h2v1h-2zM15 14h4v1h-4zM21 14h1v1h-1zM23 14h1v1h-1zM25 14h4v1h-4zM31 14h1v1h-1zM35 14h6v1h-6zM0 15h1v1h-1zM4 15h7v1h-7zM12 15h2v1h-2zM16 15h5v1h-5zM24 15h2v1h-2zM30 15h2v1h-2zM36 15h4v1h-4zM6 16h1v1h-1zM8 16h1v1h-1zM11 16h3v1h-3zM16 16h3v1h-3zM20 16h2v1h-2zM23 16h3v1h-3zM30 16h2v1h-2zM34 16h3v1h-3zM39 16h1v1h-1zM1 17h4v1h-4zM6 17h1v1h-1zM10 17h1v1h-1zM12 17h1v1h-1zM14 17h2v1h-2zM17 17h1v1h-1zM20 17h3v1h-3zM25 17h3v1h-3zM29 17h4v1h-4zM38 17h2v1h-2zM1 18h1v1h-1zM3 18h7v1h-7zM11 18h1v1h-1zM13 18h2v1h-2zM18 18h3v1h-3zM22 18h2v1h-2zM25 18h2v1h-2zM29 18h3v1h-3zM33 18h1v1h-1zM36 18h2v1h-2zM40 18h1v1h-1z" fill="#a5b5c8"/></pattern></defs><rect width="674" height="19" fill="#f4f6f6"/><rect width="674" height="19" fill="url(#dz)"/><rect x="233" width="2" height="19" fill="#f4f6f6"/></svg>
<span class="abs v" style="left:205.0px">220/1/50</span><span class="abs v" style="left:532.0px">380/3/50</span>
</div>
<div class="abs r bl" style="top:253.0px">
<span id="lb10" class="abs lb l" style="left:7.0px;letter-spacing:0.87px">压缩机数量</span><span class="abs un"><s>台</s></span><div class="abs bg"></div>
<span class="abs v" style="left:120.0px">1</span>
<span class="abs v" style="left:205.0px">1</span>
<span class="abs v" style="left:279.5px">1</span>
<span class="abs v" style="left:356.0px">1</span>
<span class="abs v" style="left:423.5px">1</span>
<span class="abs v" style="left:502.0px">1</span>
<span class="abs v" style="left:573.5px">1</span>
<span class="abs v" style="left:648.0px">1~2</span>
<span class="abs v" style="left:724.5px">2~4</span>
</div>
<div class="abs r" style="top:273.6px">
<span id="lb11" class="abs lb l" style="left:11.8px;letter-spacing:0.73px">风机数量</span><span class="abs un"><s>台</s></span><div class="abs bg"></div>
<span class="abs v" style="left:120.0px">1</span>
<span class="abs v" style="left:205.0px">2</span>
<span class="abs v" style="left:279.5px">2</span>
<span class="abs v" style="left:356.0px">2</span>
<span class="abs v" style="left:423.5px">2</span>
<span class="abs v" style="left:502.0px">2</span>
<span class="abs v" style="left:573.5px">2</span>
<span class="abs v" style="left:648.0px">2</span>
<span class="abs v" style="left:724.5px">2</span>
</div>
<div class="abs r bl" style="top:294.2px">
<span id="lb12" class="abs lb d" style="left:3.3px;letter-spacing:0.00px;font-size:8.33px">风机输入功率</span><span class="abs un">W</span><div class="abs bg"></div>
<span class="abs v" style="left:120.0px">75</span>
<span class="abs v" style="left:205.0px">75*2</span>
<span class="abs v" style="left:279.5px">85*2</span>
<span class="abs v" style="left:356.0px">75*2</span>
<span class="abs v" style="left:423.5px">85*2</span>
<span class="abs v" style="left:502.0px">200*2</span>
<span class="abs v" style="left:573.5px">200*2</span>
<span class="abs v" style="left:648.0px">750*2</span>
<span class="abs v" style="left:724.5px">1500*2</span>
</div>
<div class="abs r" style="top:314.7px">
<span id="lb13" class="abs lb l" style="left:11.8px;letter-spacing:0.73px">防水等级</span><span class="abs un"></span><div class="abs bg"></div>
<span class="abs v" style="left:423.5px">IPX4</span>
</div>
<div class="abs r bl" style="top:335.3px">
<span id="lb14" class="abs lb d" style="left:13.0px;letter-spacing:0.00px;font-size:9.33px">水流量</span><span class="abs un">M<sup>3</sup>/h</span><div class="abs bg"></div>
<span class="abs v" style="left:120.0px">1. 5</span>
<span class="abs v" style="left:205.0px">2. 5</span>
<span class="abs v" style="left:279.5px">3</span>
<span class="abs v" style="left:356.0px">2.5</span>
<span class="abs v" style="left:423.5px">3</span>
<span class="abs v" style="left:502.0px">5</span>
<span class="abs v" style="left:573.5px">6</span>
<span class="abs v" style="left:648.0px">12</span>
<span class="abs v" style="left:724.5px">24</span>
</div>
<div class="abs r" style="top:355.9px">
<span id="lb15" class="abs lb d" style="left:13.0px;letter-spacing:0.00px;font-size:9.33px">水压降</span><span class="abs un">kPa</span><div class="abs bg"></div>
<span class="abs v" style="left:423.5px">50</span>
</div>
<div class="abs r bl" style="top:376.5px">
<span id="lb16" class="abs lb d" style="left:1.7px;letter-spacing:0.00px;font-size:8.65px">进/出水管接口</span><span class="abs un"></span><div class="abs bg"></div>
<span class="abs v" style="left:120.0px">DN25</span>
<span class="abs v" style="left:205.0px">DN25</span>
<span class="abs v" style="left:279.5px">DN25</span>
<span class="abs v" style="left:356.0px">DN25</span>
<span class="abs v" style="left:423.5px">DN25</span>
<span class="abs v" style="left:502.0px">DN32</span>
<span class="abs v" style="left:573.5px">DN40</span>
<span class="abs v" style="left:648.0px">DN50</span>
<span class="abs v" style="left:724.5px">DN80</span>
</div>
<div class="abs r" style="top:397.1px">
<span id="lb17" class="abs lb d" style="left:9.5px;letter-spacing:0.00px;font-size:9.12px">冷媒形式</span><span class="abs un"></span><div class="abs bg"></div>
<span class="abs v" style="left:423.5px">R410</span>
</div>
<div class="abs r bl" style="top:417.6px">
<span id="lb18" class="abs lb l" style="left:9.5px;letter-spacing:1.33px">运行范围</span><span class="abs un">℃</span><div class="abs bg"></div>
<span class="abs v" style="left:423.5px">-30~45</span>
</div>
<div class="abs r" style="top:438.2px">
<span id="lb19" class="abs lb d" style="left:13.5px;letter-spacing:-0.01px">注氟量</span><span class="abs un">kg</span><div class="abs bg"></div>
<span class="abs v" style="left:120.0px">2. 7</span>
<span class="abs v" style="left:205.0px">3.5</span>
<span class="abs v" style="left:279.5px">3.7</span>
<span class="abs v" style="left:356.0px">3.5</span>
<span class="abs v" style="left:423.5px">3.7</span>
<span class="abs v" style="left:502.0px">5</span>
<span class="abs v" style="left:573.5px">6.5</span>
<span class="abs v" style="left:648.0px">6.5*2</span>
<span class="abs v" style="left:724.5px">6.5*4</span>
</div>
<div class="abs r bl" style="top:458.8px">
<span id="lb20" class="abs lb d" style="left:17.0px;letter-spacing:0.00px;font-size:9.00px">噪 音</span><span class="abs un">dB(A)</span><div class="abs bg"></div>
<span class="abs v" style="left:120.0px">≤55</span>
<span class="abs v" style="left:205.0px">≤55</span>
<span class="abs v" style="left:279.5px">≤55</span>
<span class="abs v" style="left:356.0px">≤55</span>
<span class="abs v" style="left:423.5px">≤55</span>
<span class="abs v" style="left:502.0px">≤60</span>
<span class="abs v" style="left:573.5px">≤60</span>
<span class="abs v" style="left:648.0px">≤68</span>
<span class="abs v" style="left:724.5px">≤70</span>
</div>
<div class="abs r sm" style="top:479.4px">
<span id="lb21" class="abs lb d" style="left:1.5px;letter-spacing:0.00px;font-size:9.04px">外形尺寸<em>(L/W/H)</em></span><span class="abs un">mm</span><div class="abs bg"></div>
<span class="abs v" style="left:120.0px">880/360/800</span>
<span class="abs v" style="left:205.0px">930/390/1270</span>
<span class="abs v" style="left:279.5px">1020/370/1370</span>
<span class="abs v" style="left:356.0px">930/390/1270</span>
<span class="abs v" style="left:423.5px">1020/370/1370</span>
<span class="abs v" style="left:502.0px">1240/540/1653</span>
<span class="abs v" style="left:573.5px">1240/540/1653</span>
<span class="abs v" style="left:648.0px">1910/960/2030</span>
<span class="abs v" style="left:724.5px">2220/1120/2350</span>
</div>
<div class="abs r bl sm" style="top:500.0px">
<span id="lb22" class="abs lb l" style="left:2.0px;letter-spacing:0.07px">包装尺寸<em>(L/W/H)</em></span><span class="abs un"></span><div class="abs bg"></div>
<span class="abs v" style="left:120.0px">910/390/900</span>
<span class="abs v" style="left:205.0px">960/420/1370</span>
<span class="abs v" style="left:279.5px">1050/400/1470</span>
<span class="abs v" style="left:356.0px">960/420/1370</span>
<span class="abs v" style="left:423.5px">1050/400/1470</span>
<span class="abs v" style="left:502.0px">1270/570/1753</span>
<span class="abs v" style="left:573.5px">1270/570/1753</span>
<span class="abs v" style="left:648.0px">1940/990/2130</span>
<span class="abs v" style="left:724.5px">2250/1150/2450</span>
</div>
<div class="abs r" style="top:520.5px">
<span id="lb23" class="abs lb d" style="left:19.0px;letter-spacing:0.00px;font-size:9.24px">净重</span><span class="abs un">kg</span><div class="abs bg"></div>
<span class="abs v" style="left:120.0px">85</span>
<span class="abs v" style="left:205.0px">120</span>
<span class="abs v" style="left:279.5px">125</span>
<span class="abs v" style="left:356.0px">120</span>
<span class="abs v" style="left:423.5px">125</span>
<span class="abs v" style="left:502.0px">245</span>
<span class="abs v" style="left:573.5px">250</span>
<span class="abs v" style="left:648.0px">780</span>
<span class="abs v" style="left:724.5px">1450</span>
</div>
<div class="abs r bl" style="top:541.1px">
<span id="lb24" class="abs lb d" style="left:19.0px;letter-spacing:0.00px;font-size:9.24px">毛重</span><span class="abs un">kg</span><div class="abs bg"></div>
<span class="abs v" style="left:120.0px">90</span>
<span class="abs v" style="left:205.0px">125</span>
<span class="abs v" style="left:279.5px">135</span>
<span class="abs v" style="left:356.0px">125</span>
<span class="abs v" style="left:423.5px">135</span>
<span class="abs v" style="left:502.0px">260</span>
<span class="abs v" style="left:573.5px">265</span>
<span class="abs v" style="left:648.0px">800</span>
<span class="abs v" style="left:724.5px">1470</span>
</div>
</div>
<div id="note" class="abs"><b class="sq"></b>制热名义工况<span class="jc" lang="ja">：</span>环境工况为20℃干球/15℃湿球，<br>机型、参数、性能会因产品的改良有所改变，恕不另行通知。</div>
<div id="bd1" class="abs badge"><span class="abs c">外形尺寸</span><span class="abs e">Outside measurement</span></div>
<div id="ob" class="abs">
<svg class="abs" style="left:13px;top:30px" width="737" height="74" shape-rendering="crispEdges"><defs><pattern id="dy" width="61" height="37" patternUnits="userSpaceOnUse"><path d="M10 0h1v1h-1zM12 0h1v1h-1zM15 0h1v1h-1zM21 0h1v1h-1zM23 0h4v1h-4zM43 0h1v1h-1zM50 0h2v1h-2zM56 0h1v1h-1zM60 0h1v1h-1zM3 1h4v1h-4zM15 1h1v1h-1zM27 1h1v1h-1zM34 1h2v1h-2zM58 1h2v1h-2zM8 2h2v1h-2zM16 2h2v1h-2zM19 2h2v1h-2zM31 2h2v1h-2zM36 2h1v1h-1zM42 2h1v1h-1zM1 3h1v1h-1zM11 3h1v1h-1zM13 3h1v1h-1zM22 3h1v1h-1zM59 3h2v1h-2zM1 4h1v1h-1zM6 4h2v1h-2zM9 4h1v1h-1zM13 4h1v1h-1zM24 4h1v1h-1zM37 4h1v1h-1zM5 5h1v1h-1zM10 5h1v1h-1zM12 5h1v1h-1zM26 5h2v1h-2zM48 5h1v1h-1zM56 5h1v1h-1zM13 6h3v1h-3zM20 6h1v1h-1zM53 6h1v1h-1zM60 6h1v1h-1zM4 7h1v1h-1zM10 7h3v1h-3zM22 7h2v1h-2zM32 7h1v1h-1zM42 7h1v1h-1zM5 8h1v1h-1zM8 8h1v1h-1zM25 8h1v1h-1zM30 8h2v1h-2zM33 8h2v1h-2zM43 8h1v1h-1zM46 8h1v1h-1zM53 8h1v1h-1zM4 9h4v1h-4zM12 9h1v1h-1zM15 9h1v1h-1zM28 9h1v1h-1zM32 9h1v1h-1zM47 9h1v1h-1zM2 10h3v1h-3zM7 10h1v1h-1zM9 10h2v1h-2zM20 10h2v1h-2zM38 10h1v1h-1zM40 10h2v1h-2zM47 10h2v1h-2zM50 10h1v1h-1zM59 10h1v1h-1zM27 11h1v1h-1zM34 11h1v1h-1zM37 11h2v1h-2zM41 11h1v1h-1zM22 12h1v1h-1zM24 12h1v1h-1zM28 12h1v1h-1zM32 12h5v1h-5zM56 12h1v1h-1zM5 13h1v1h-1zM23 13h1v1h-1zM27 13h2v1h-2zM30 13h1v1h-1zM40 13h1v1h-1zM49 13h1v1h-1zM55 13h1v1h-1zM0 14h1v1h-1zM6 14h1v1h-1zM27 14h3v1h-3zM36 14h4v1h-4zM41 14h1v1h-1zM51 14h1v1h-1zM58 14h1v1h-1zM1 15h1v1h-1zM23 15h2v1h-2zM52 15h3v1h-3zM3 16h2v1h-2zM15 16h1v1h-1zM39 16h1v1h-1zM47 16h2v1h-2zM52 16h1v1h-1zM59 16h1v1h-1zM9 17h1v1h-1zM14 17h3v1h-3zM18 17h1v1h-1zM24 17h2v1h-2zM47 17h2v1h-2zM58 17h2v1h-2zM16 18h1v1h-1zM21 18h1v1h-1zM26 18h2v1h-2zM35 18h1v1h-1zM6 19h1v1h-1zM13 19h1v1h-1zM19 19h1v1h-1zM27 19h1v1h-1zM33 19h1v1h-1zM41 19h1v1h-1zM46 19h1v1h-1zM53 19h2v1h-2zM60 19h1v1h-1zM0 20h1v1h-1zM14 20h1v1h-1zM17 20h1v1h-1zM43 20h1v1h-1zM47 20h3v1h-3zM0 21h1v1h-1zM3 21h1v1h-1zM8 21h1v1h-1zM11 21h2v1h-2zM14 21h1v1h-1zM34 21h2v1h-2zM50 21h1v1h-1zM53 21h1v1h-1zM3 22h1v1h-1zM11 22h1v1h-1zM14 22h1v1h-1zM16 22h1v1h-1zM22 22h1v1h-1zM45 22h2v1h-2zM56 22h1v1h-1zM29 23h3v1h-3zM33 23h1v1h-1zM40 23h2v1h-2zM3 24h1v1h-1zM14 24h1v1h-1zM16 24h3v1h-3zM23 24h1v1h-1zM41 24h1v1h-1zM47 24h1v1h-1zM56 24h2v1h-2zM60 24h1v1h-1zM9 25h1v1h-1zM21 25h4v1h-4zM29 25h2v1h-2zM32 25h1v1h-1zM42 25h1v1h-1zM48 25h1v1h-1zM0 26h1v1h-1zM8 26h2v1h-2zM12 26h1v1h-1zM22 26h1v1h-1zM48 26h1v1h-1zM59 26h1v1h-1zM24 27h1v1h-1zM35 27h1v1h-1zM48 27h2v1h-2zM53 27h2v1h-2zM59 27h1v1h-1zM7 28h1v1h-1zM19 28h1v1h-1zM53 28h1v1h-1zM11 29h1v1h-1zM13 29h1v1h-1zM21 29h1v1h-1zM37 29h1v1h-1zM48 29h2v1h-2zM57 29h1v1h-1zM59 29h1v1h-1zM2 30h1v1h-1zM6 30h1v1h-1zM13 30h1v1h-1zM19 30h2v1h-2zM25 30h1v1h-1zM35 30h2v1h-2zM42 30h2v1h-2zM48 30h1v1h-1zM50 30h3v1h-3zM11 31h1v1h-1zM13 31h1v1h-1zM18 31h1v1h-1zM25 31h1v1h-1zM28 31h1v1h-1zM41 31h4v1h-4zM51 31h1v1h-1zM59 31h1v1h-1zM0 32h1v1h-1zM5 32h1v1h-1zM9 32h1v1h-1zM15 32h1v1h-1zM22 32h1v1h-1zM25 32h2v1h-2zM30 32h2v1h-2zM43 32h1v1h-1zM52 32h1v1h-1zM15 33h1v1h-1zM28 33h1v1h-1zM31 33h1v1h-1zM40 33h1v1h-1zM60 33h1v1h-1zM22 34h1v1h-1zM36 34h1v1h-1zM39 34h1v1h-1zM41 34h1v1h-1zM43 34h1v1h-1zM47 34h1v1h-1zM49 34h2v1h-2zM57 34h1v1h-1zM6 35h1v1h-1zM21 35h1v1h-1zM28 35h1v1h-1zM31 35h2v1h-2zM35 35h2v1h-2zM43 35h2v1h-2zM51 35h1v1h-1zM20 36h1v1h-1zM42 36h1v1h-1zM45 36h1v1h-1z" fill="#a9d6ef"/></pattern></defs><rect width="737" height="74" fill="url(#dy)"/></svg>
<div class="abs hc" style="left:13px;width:159px"></div>
<div class="abs hc" style="left:173px;width:76px"></div>
<span class="abs hm" style="left:211.7px;transform:translateX(-50%) scaleX(0.99)">BKH03C-B</span>
<div class="abs hc" style="left:250px;width:76px"></div>
<span class="abs hm" style="left:287.5px;transform:translateX(-50%) scaleX(1.11)">BKH05C-B</span>
<div class="abs hc" style="left:327px;width:84px"></div>
<span class="abs hm" style="left:368.0px;transform:translateX(-50%) scaleX(1.11)">BKH06C-B</span>
<div class="abs hc" style="left:413px;width:80px"></div>
<span class="abs hm" style="left:453.7px;transform:translateX(-50%) scaleX(1.11)">BKH10C-B</span>
<div class="abs hc" style="left:495px;width:80px"></div>
<span class="abs hm" style="left:535.5px;transform:translateX(-50%) scaleX(1.11)">BKH12C-B</span>
<div class="abs hc" style="left:577px;width:87px"></div>
<span class="abs hm" style="left:618.7px;transform:translateX(-50%) scaleX(1.11)">BKH25D-B</span>
<div class="abs hc" style="left:666px;width:84px"></div>
<span class="abs hm" style="left:709.0px;transform:translateX(-50%) scaleX(1.11)">BKH50D-B</span>
<svg class="abs" style="left:13px;top:8px" width="159" height="22"><line x1="41" y1="0" x2="122" y2="22" stroke="#6fb3e6" stroke-width="1"/></svg>
<span class="abs hz" style="left:29px;top:11px">项目</span><span class="abs he" style="left:42px;top:21px">Items</span>
<span class="abs hz" style="left:119px;top:10px">型号</span><span class="abs he" style="left:133px;top:21px">Model</span>
<span class="abs lz" style="left:53px;top:33.0px">长 A</span><span class="abs le" style="left:97px;top:34.5px">Length</span>
<span class="abs ov" style="left:211.0px;top:33.0px">880</span>
<span class="abs ov" style="left:285.0px;top:33.0px">930</span>
<span class="abs ov" style="left:371.5px;top:33.0px">1020</span>
<span class="abs ov" style="left:454.0px;top:33.0px">1240</span>
<span class="abs ov" style="left:535.0px;top:33.0px">1240</span>
<span class="abs ov" style="left:618.5px;top:33.0px">1910</span>
<span class="abs ov" style="left:709.0px;top:33.0px">2220</span>
<span class="abs lz" style="left:53px;top:47.5px">宽 B</span><span class="abs le" style="left:97px;top:49.0px">Wide</span>
<span class="abs ov" style="left:211.0px;top:47.5px">360</span>
<span class="abs ov" style="left:285.0px;top:47.5px">390</span>
<span class="abs ov" style="left:371.5px;top:47.5px">370</span>
<span class="abs ov" style="left:454.0px;top:47.5px">540</span>
<span class="abs ov" style="left:535.0px;top:47.5px">540</span>
<span class="abs ov" style="left:618.5px;top:47.5px">960</span>
<span class="abs ov" style="left:709.0px;top:47.5px">1120</span>
<span class="abs lz" style="left:53px;top:62.5px">高 C</span><span class="abs le" style="left:97px;top:64.0px">Height</span>
<span class="abs ov" style="left:211.0px;top:62.5px">800</span>
<span class="abs ov" style="left:285.0px;top:62.5px">1270</span>
<span class="abs ov" style="left:371.5px;top:62.5px">1370</span>
<span class="abs ov" style="left:454.0px;top:62.5px">1653</span>
<span class="abs ov" style="left:535.0px;top:62.5px">1653</span>
<span class="abs ov" style="left:618.5px;top:62.5px">2030</span>
<span class="abs ov" style="left:709.0px;top:62.5px">2350</span>
<span class="abs lz" style="left:39px;top:80px;letter-spacing:.6px">定位孔位</span><span class="abs le" style="left:37px;top:91px;letter-spacing:.45px">Locator hole</span>
<span class="abs lz" style="left:110px;top:75px">D</span><span class="abs lz" style="left:110px;top:89px">E</span>
<div class="abs hl" style="top:88px"></div>
<div class="abs vl" style="left:172.0px"></div>
<div class="abs vl" style="left:249.0px"></div>
<div class="abs vl" style="left:326.0px"></div>
<div class="abs vl" style="left:411.5px"></div>
<div class="abs vl" style="left:493.5px"></div>
<div class="abs vl" style="left:575.5px"></div>
<div class="abs vl" style="left:664.5px"></div>
</div>
<div id="bd2" class="abs badge"><span class="abs c">外形结构</span><span class="abs e">External configuration</span></div>
<svg id="cfg" class="abs" style="left:0;top:1190px" width="821" height="210" viewBox="0 1190 821 210" font-family="Liberation Sans, sans-serif">
<g fill="none" stroke="#7d838b" stroke-width="1.2">
<rect x="111.5" y="1231.5" width="114.5" height="86"/>
<line x1="111.5" y1="1235" x2="226" y2="1235"/>
<line x1="187.5" y1="1235" x2="187.5" y2="1317"/>
<rect x="116" y="1237" width="67" height="3.4" rx="1.7"/>
<rect x="116" y="1302" width="67" height="3.4" rx="1.7"/>
<rect x="116" y="1308.6" width="67" height="4.4" rx="2"/>
<line x1="114" y1="1235" x2="114" y2="1317"/>
<path d="M226 1231.5H238M226 1317.5H238M237.5 1231V1318" stroke-width="1"/>
</g>
<rect x="191" y="1240.5" width="30" height="70.5" rx="3" fill="none" stroke="#4a4f57" stroke-width="1.4"/>
<clipPath id="g1"><rect x="120.0" y="1243.6" width="65.3" height="55.2" rx="2"/></clipPath>
<rect x="118.8" y="1242.4" width="67.7" height="57.6" rx="2" fill="#4a4f57"/>
<g clip-path="url(#g1)" fill="#a39280">
<path d="M162.0 1270.8 L166.1 1271.5 L170.0 1272.7 L173.9 1274.4 L177.6 1276.6 L181.2 1279.2 L184.4 1282.2 L187.5 1285.7 L190.2 1289.6 L192.5 1293.8 L194.5 1298.4 L193.2 1300.2 L191.5 1295.5 L189.3 1291.2 L186.8 1287.2 L183.9 1283.6 L180.8 1280.4 L177.4 1277.7 L173.7 1275.4 L169.9 1273.5 L166.0 1272.1 L162.0 1271.2 z"/>
<path d="M161.9 1272.3 L165.8 1273.7 L169.5 1275.6 L173.1 1277.9 L176.4 1280.6 L179.4 1283.8 L182.2 1287.3 L184.6 1291.2 L186.6 1295.5 L188.2 1300.1 L189.4 1304.9 L187.9 1306.5 L186.9 1301.6 L185.5 1297.0 L183.6 1292.6 L181.4 1288.6 L178.8 1285.0 L175.9 1281.7 L172.7 1278.8 L169.3 1276.3 L165.6 1274.3 L161.8 1272.8 z"/>
<path d="M161.6 1273.9 L165.2 1275.9 L168.5 1278.3 L171.6 1281.2 L174.5 1284.4 L177.0 1288.0 L179.1 1292.0 L180.8 1296.2 L182.1 1300.8 L182.9 1305.5 L183.3 1310.5 L181.5 1311.8 L181.4 1306.9 L180.7 1302.1 L179.6 1297.5 L178.1 1293.1 L176.2 1289.1 L173.8 1285.4 L171.2 1282.0 L168.2 1279.0 L164.9 1276.5 L161.4 1274.3 z"/>
<path d="M161.0 1275.3 L164.2 1277.9 L167.1 1280.9 L169.7 1284.2 L172.0 1287.8 L173.8 1291.8 L175.3 1296.1 L176.2 1300.6 L176.8 1305.2 L176.8 1310.1 L176.4 1315.0 L174.4 1316.0 L175.1 1311.1 L175.2 1306.3 L174.9 1301.6 L174.1 1297.1 L172.9 1292.8 L171.2 1288.7 L169.1 1284.9 L166.6 1281.5 L163.8 1278.4 L160.7 1275.7 z"/>
<path d="M160.1 1276.7 L162.9 1279.7 L165.3 1283.1 L167.3 1286.8 L168.9 1290.8 L170.1 1295.0 L170.8 1299.5 L171.1 1304.1 L170.8 1308.8 L170.1 1313.6 L168.8 1318.4 L166.7 1319.0 L168.2 1314.3 L169.1 1309.5 L169.6 1304.9 L169.5 1300.3 L169.0 1295.8 L168.0 1291.5 L166.6 1287.5 L164.7 1283.7 L162.5 1280.2 L159.9 1277.0 z"/>
<path d="M159.1 1277.8 L161.3 1281.3 L163.1 1285.1 L164.5 1289.1 L165.4 1293.3 L165.9 1297.6 L165.9 1302.1 L165.4 1306.7 L164.3 1311.3 L162.8 1315.9 L160.8 1320.4 L158.6 1320.7 L160.8 1316.3 L162.6 1311.8 L163.8 1307.2 L164.5 1302.7 L164.7 1298.2 L164.4 1293.8 L163.7 1289.6 L162.5 1285.5 L160.8 1281.7 L158.8 1278.1 z"/>
<path d="M157.9 1278.8 L159.5 1282.6 L160.7 1286.6 L161.4 1290.8 L161.6 1295.1 L161.3 1299.5 L160.6 1303.9 L159.3 1308.3 L157.6 1312.7 L155.3 1317.0 L152.5 1321.1 L150.3 1321.1 L153.3 1317.0 L155.7 1312.9 L157.7 1308.6 L159.1 1304.2 L160.1 1299.8 L160.5 1295.5 L160.5 1291.2 L159.9 1287.0 L158.9 1282.9 L157.5 1279.1 z"/>
<path d="M156.5 1279.6 L157.5 1283.6 L158.0 1287.7 L158.0 1292.0 L157.5 1296.2 L156.5 1300.5 L155.1 1304.8 L153.1 1308.9 L150.6 1312.9 L147.7 1316.8 L144.3 1320.4 L142.1 1320.0 L145.7 1316.5 L148.8 1312.8 L151.4 1308.9 L153.6 1304.8 L155.2 1300.7 L156.4 1296.4 L157.0 1292.2 L157.2 1288.0 L156.9 1283.8 L156.1 1279.8 z"/>
<path d="M155.0 1280.2 L155.3 1284.3 L155.1 1288.4 L154.5 1292.6 L153.3 1296.7 L151.6 1300.8 L149.5 1304.7 L146.8 1308.5 L143.8 1312.1 L140.2 1315.4 L136.3 1318.4 L134.2 1317.6 L138.3 1314.8 L142.0 1311.6 L145.2 1308.2 L148.0 1304.6 L150.3 1300.7 L152.1 1296.7 L153.5 1292.7 L154.4 1288.5 L154.7 1284.4 L154.6 1280.3 z"/>
<path d="M153.5 1280.4 L153.1 1284.5 L152.2 1288.6 L150.9 1292.6 L149.0 1296.5 L146.7 1300.2 L144.0 1303.8 L140.7 1307.1 L137.1 1310.1 L133.1 1312.7 L128.7 1315.1 L126.8 1314.0 L131.3 1311.9 L135.4 1309.3 L139.2 1306.5 L142.5 1303.4 L145.4 1299.9 L147.9 1296.3 L149.9 1292.5 L151.4 1288.6 L152.5 1284.6 L153.1 1280.5 z"/>
<path d="M151.9 1280.5 L150.9 1284.5 L149.3 1288.3 L147.3 1292.1 L144.9 1295.6 L142.0 1298.9 L138.7 1301.9 L135.0 1304.6 L130.9 1307.0 L126.5 1309.0 L121.8 1310.6 L120.0 1309.2 L124.8 1307.8 L129.3 1306.0 L133.5 1303.8 L137.3 1301.3 L140.8 1298.4 L143.8 1295.2 L146.4 1291.8 L148.6 1288.2 L150.3 1284.4 L151.5 1280.4 z"/>
<path d="M150.4 1280.3 L148.7 1284.0 L146.5 1287.6 L143.9 1290.9 L140.9 1294.0 L137.5 1296.8 L133.8 1299.2 L129.7 1301.3 L125.3 1302.9 L120.6 1304.2 L115.7 1305.0 L114.2 1303.3 L119.2 1302.7 L123.9 1301.7 L128.4 1300.2 L132.5 1298.4 L136.4 1296.1 L139.9 1293.5 L143.1 1290.5 L145.8 1287.3 L148.1 1283.8 L150.0 1280.2 z"/>
<path d="M148.9 1279.8 L146.6 1283.2 L143.9 1286.4 L140.8 1289.2 L137.3 1291.8 L133.5 1294.0 L129.4 1295.7 L125.0 1297.1 L120.4 1298.0 L115.6 1298.5 L110.6 1298.4 L109.4 1296.6 L114.4 1296.8 L119.2 1296.6 L123.9 1295.9 L128.3 1294.7 L132.5 1293.1 L136.4 1291.1 L140.0 1288.7 L143.2 1286.0 L146.0 1282.9 L148.5 1279.6 z"/>
<path d="M147.5 1279.1 L144.7 1282.1 L141.5 1284.7 L137.9 1287.1 L134.1 1289.0 L130.0 1290.5 L125.6 1291.6 L121.1 1292.2 L116.4 1292.4 L111.5 1292.0 L106.6 1291.2 L105.8 1289.1 L110.7 1290.2 L115.5 1290.8 L120.2 1290.8 L124.7 1290.4 L129.1 1289.5 L133.3 1288.2 L137.2 1286.4 L140.9 1284.2 L144.2 1281.7 L147.1 1278.8 z"/>
<path d="M146.2 1278.1 L143.0 1280.6 L139.4 1282.7 L135.5 1284.4 L131.4 1285.7 L127.1 1286.5 L122.6 1286.9 L118.0 1286.8 L113.3 1286.1 L108.6 1285.0 L103.9 1283.3 L103.4 1281.2 L108.1 1283.0 L112.7 1284.4 L117.4 1285.2 L121.9 1285.6 L126.4 1285.4 L130.8 1284.8 L134.9 1283.7 L138.8 1282.1 L142.5 1280.2 L145.9 1277.8 z"/>
<path d="M145.1 1277.0 L141.5 1278.9 L137.6 1280.4 L133.5 1281.5 L129.3 1282.1 L124.9 1282.2 L120.4 1281.8 L115.9 1280.9 L111.4 1279.5 L106.9 1277.6 L102.6 1275.2 L102.4 1273.0 L106.7 1275.6 L111.1 1277.7 L115.5 1279.2 L120.0 1280.3 L124.4 1280.9 L128.8 1281.0 L133.1 1280.6 L137.2 1279.7 L141.1 1278.4 L144.9 1276.7 z"/>
<path d="M144.3 1275.7 L140.3 1277.0 L136.3 1277.8 L132.1 1278.2 L127.8 1278.1 L123.4 1277.5 L119.1 1276.3 L114.8 1274.7 L110.6 1272.6 L106.5 1270.0 L102.6 1266.9 L102.8 1264.7 L106.6 1268.0 L110.5 1270.7 L114.6 1273.0 L118.9 1274.8 L123.1 1276.2 L127.5 1277.0 L131.7 1277.3 L136.0 1277.1 L140.1 1276.4 L144.0 1275.3 z"/>
<path d="M143.6 1274.3 L139.5 1274.9 L135.4 1275.1 L131.1 1274.7 L126.9 1273.9 L122.7 1272.6 L118.6 1270.8 L114.7 1268.5 L110.9 1265.7 L107.3 1262.4 L103.9 1258.7 L104.5 1256.6 L107.7 1260.4 L111.1 1263.8 L114.8 1266.8 L118.7 1269.3 L122.7 1271.3 L126.8 1272.8 L131.0 1273.8 L135.2 1274.3 L139.4 1274.3 L143.4 1273.9 z"/>
<path d="M143.2 1272.8 L139.1 1272.7 L134.9 1272.2 L130.8 1271.2 L126.8 1269.7 L122.9 1267.7 L119.1 1265.2 L115.6 1262.3 L112.3 1258.9 L109.3 1255.1 L106.6 1250.9 L107.5 1248.9 L110.0 1253.2 L112.9 1257.1 L116.0 1260.6 L119.4 1263.7 L123.1 1266.3 L126.9 1268.5 L130.8 1270.2 L134.9 1271.4 L139.0 1272.1 L143.1 1272.3 z"/>
<path d="M143.0 1271.2 L138.9 1270.5 L135.0 1269.3 L131.1 1267.6 L127.4 1265.4 L123.8 1262.8 L120.6 1259.8 L117.5 1256.3 L114.8 1252.4 L112.5 1248.2 L110.5 1243.6 L111.8 1241.8 L113.5 1246.5 L115.7 1250.8 L118.2 1254.8 L121.1 1258.4 L124.2 1261.6 L127.6 1264.3 L131.3 1266.6 L135.1 1268.5 L139.0 1269.9 L143.0 1270.8 z"/>
<path d="M143.1 1269.7 L139.2 1268.3 L135.5 1266.4 L131.9 1264.1 L128.6 1261.4 L125.6 1258.2 L122.8 1254.7 L120.4 1250.8 L118.4 1246.5 L116.8 1241.9 L115.6 1237.1 L117.1 1235.5 L118.1 1240.4 L119.5 1245.0 L121.4 1249.4 L123.6 1253.4 L126.2 1257.0 L129.1 1260.3 L132.3 1263.2 L135.7 1265.7 L139.4 1267.7 L143.2 1269.2 z"/>
<path d="M143.4 1268.1 L139.8 1266.1 L136.5 1263.7 L133.4 1260.8 L130.5 1257.6 L128.0 1254.0 L125.9 1250.0 L124.2 1245.8 L122.9 1241.2 L122.1 1236.5 L121.7 1231.5 L123.5 1230.2 L123.6 1235.1 L124.3 1239.9 L125.4 1244.5 L126.9 1248.9 L128.8 1252.9 L131.2 1256.6 L133.8 1260.0 L136.8 1263.0 L140.1 1265.5 L143.6 1267.7 z"/>
<path d="M144.0 1266.7 L140.8 1264.1 L137.9 1261.1 L135.3 1257.8 L133.0 1254.2 L131.2 1250.2 L129.7 1245.9 L128.8 1241.4 L128.2 1236.8 L128.2 1231.9 L128.6 1227.0 L130.6 1226.0 L129.9 1230.9 L129.8 1235.7 L130.1 1240.4 L130.9 1244.9 L132.1 1249.2 L133.8 1253.3 L135.9 1257.1 L138.4 1260.5 L141.2 1263.6 L144.3 1266.3 z"/>
<path d="M144.9 1265.3 L142.1 1262.3 L139.7 1258.9 L137.7 1255.2 L136.1 1251.2 L134.9 1247.0 L134.2 1242.5 L133.9 1237.9 L134.2 1233.2 L134.9 1228.4 L136.2 1223.6 L138.3 1223.0 L136.8 1227.7 L135.9 1232.5 L135.4 1237.1 L135.5 1241.7 L136.0 1246.2 L137.0 1250.5 L138.4 1254.5 L140.3 1258.3 L142.5 1261.8 L145.1 1265.0 z"/>
<path d="M145.9 1264.2 L143.7 1260.7 L141.9 1256.9 L140.5 1252.9 L139.6 1248.7 L139.1 1244.4 L139.1 1239.9 L139.6 1235.3 L140.7 1230.7 L142.2 1226.1 L144.2 1221.6 L146.4 1221.3 L144.2 1225.7 L142.4 1230.2 L141.2 1234.8 L140.5 1239.3 L140.3 1243.8 L140.6 1248.2 L141.3 1252.4 L142.5 1256.5 L144.2 1260.3 L146.2 1263.9 z"/>
<path d="M147.1 1263.2 L145.5 1259.4 L144.3 1255.4 L143.6 1251.2 L143.4 1246.9 L143.7 1242.5 L144.4 1238.1 L145.7 1233.7 L147.4 1229.3 L149.7 1225.0 L152.5 1220.9 L154.7 1220.9 L151.7 1225.0 L149.3 1229.1 L147.3 1233.4 L145.9 1237.8 L144.9 1242.2 L144.5 1246.5 L144.5 1250.8 L145.1 1255.0 L146.1 1259.1 L147.5 1262.9 z"/>
<path d="M148.5 1262.4 L147.5 1258.4 L147.0 1254.3 L147.0 1250.0 L147.5 1245.8 L148.5 1241.5 L149.9 1237.2 L151.9 1233.1 L154.4 1229.1 L157.3 1225.2 L160.7 1221.6 L162.9 1222.0 L159.3 1225.5 L156.2 1229.2 L153.6 1233.1 L151.4 1237.2 L149.8 1241.3 L148.6 1245.6 L148.0 1249.8 L147.8 1254.0 L148.1 1258.2 L148.9 1262.2 z"/>
<path d="M150.0 1261.8 L149.7 1257.7 L149.9 1253.6 L150.5 1249.4 L151.7 1245.3 L153.4 1241.2 L155.5 1237.3 L158.2 1233.5 L161.2 1229.9 L164.8 1226.6 L168.7 1223.6 L170.8 1224.4 L166.7 1227.2 L163.0 1230.4 L159.8 1233.8 L157.0 1237.4 L154.7 1241.3 L152.9 1245.3 L151.5 1249.3 L150.6 1253.5 L150.3 1257.6 L150.4 1261.7 z"/>
<path d="M151.5 1261.6 L151.9 1257.5 L152.8 1253.4 L154.1 1249.4 L156.0 1245.5 L158.3 1241.8 L161.0 1238.2 L164.3 1234.9 L167.9 1231.9 L171.9 1229.3 L176.3 1226.9 L178.2 1228.0 L173.7 1230.1 L169.6 1232.7 L165.8 1235.5 L162.5 1238.6 L159.6 1242.1 L157.1 1245.7 L155.1 1249.5 L153.6 1253.4 L152.5 1257.4 L151.9 1261.5 z"/>
<path d="M153.1 1261.5 L154.1 1257.5 L155.7 1253.7 L157.7 1249.9 L160.1 1246.4 L163.0 1243.1 L166.3 1240.1 L170.0 1237.4 L174.1 1235.0 L178.5 1233.0 L183.2 1231.4 L185.0 1232.8 L180.2 1234.2 L175.7 1236.0 L171.5 1238.2 L167.7 1240.7 L164.2 1243.6 L161.2 1246.8 L158.6 1250.2 L156.4 1253.8 L154.7 1257.6 L153.5 1261.6 z"/>
<path d="M154.6 1261.7 L156.3 1258.0 L158.5 1254.4 L161.1 1251.1 L164.1 1248.0 L167.5 1245.2 L171.2 1242.8 L175.3 1240.7 L179.7 1239.1 L184.4 1237.8 L189.3 1237.0 L190.8 1238.7 L185.8 1239.3 L181.1 1240.3 L176.6 1241.8 L172.5 1243.6 L168.6 1245.9 L165.1 1248.5 L161.9 1251.5 L159.2 1254.7 L156.9 1258.2 L155.0 1261.8 z"/>
<path d="M156.1 1262.2 L158.4 1258.8 L161.1 1255.6 L164.2 1252.8 L167.7 1250.2 L171.5 1248.0 L175.6 1246.3 L180.0 1244.9 L184.6 1244.0 L189.4 1243.5 L194.4 1243.6 L195.6 1245.4 L190.6 1245.2 L185.8 1245.4 L181.1 1246.1 L176.7 1247.3 L172.5 1248.9 L168.6 1250.9 L165.0 1253.3 L161.8 1256.0 L159.0 1259.1 L156.5 1262.4 z"/>
<path d="M157.5 1262.9 L160.3 1259.9 L163.5 1257.3 L167.1 1254.9 L170.9 1253.0 L175.0 1251.5 L179.4 1250.4 L183.9 1249.8 L188.6 1249.6 L193.5 1250.0 L198.4 1250.8 L199.2 1252.9 L194.3 1251.8 L189.5 1251.2 L184.8 1251.2 L180.3 1251.6 L175.9 1252.5 L171.7 1253.8 L167.8 1255.6 L164.1 1257.8 L160.8 1260.3 L157.9 1263.2 z"/>
<path d="M158.8 1263.9 L162.0 1261.4 L165.6 1259.3 L169.5 1257.6 L173.6 1256.3 L177.9 1255.5 L182.4 1255.1 L187.0 1255.2 L191.7 1255.9 L196.4 1257.0 L201.1 1258.7 L201.6 1260.8 L196.9 1259.0 L192.3 1257.6 L187.6 1256.8 L183.1 1256.4 L178.6 1256.6 L174.2 1257.2 L170.1 1258.3 L166.2 1259.9 L162.5 1261.8 L159.1 1264.2 z"/>
<path d="M159.9 1265.0 L163.5 1263.1 L167.4 1261.6 L171.5 1260.5 L175.7 1259.9 L180.1 1259.8 L184.6 1260.2 L189.1 1261.1 L193.6 1262.5 L198.1 1264.4 L202.4 1266.8 L202.6 1269.0 L198.3 1266.4 L193.9 1264.3 L189.5 1262.8 L185.0 1261.7 L180.6 1261.1 L176.2 1261.0 L171.9 1261.4 L167.8 1262.3 L163.9 1263.6 L160.1 1265.3 z"/>
<path d="M160.7 1266.3 L164.7 1265.0 L168.7 1264.2 L172.9 1263.8 L177.2 1263.9 L181.6 1264.5 L185.9 1265.7 L190.2 1267.3 L194.4 1269.4 L198.5 1272.0 L202.4 1275.1 L202.2 1277.3 L198.4 1274.0 L194.5 1271.3 L190.4 1269.0 L186.1 1267.2 L181.9 1265.8 L177.5 1265.0 L173.3 1264.7 L169.0 1264.9 L164.9 1265.6 L161.0 1266.7 z"/>
<path d="M161.4 1267.7 L165.5 1267.1 L169.6 1266.9 L173.9 1267.3 L178.1 1268.1 L182.3 1269.4 L186.4 1271.2 L190.3 1273.5 L194.1 1276.3 L197.7 1279.6 L201.1 1283.3 L200.5 1285.4 L197.3 1281.6 L193.9 1278.2 L190.2 1275.2 L186.3 1272.7 L182.3 1270.7 L178.2 1269.2 L174.0 1268.2 L169.8 1267.7 L165.6 1267.7 L161.6 1268.1 z"/>
<path d="M161.8 1269.2 L165.9 1269.3 L170.1 1269.8 L174.2 1270.8 L178.2 1272.3 L182.1 1274.3 L185.9 1276.8 L189.4 1279.7 L192.7 1283.1 L195.7 1286.9 L198.4 1291.1 L197.5 1293.1 L195.0 1288.8 L192.1 1284.9 L189.0 1281.4 L185.6 1278.3 L181.9 1275.7 L178.1 1273.5 L174.2 1271.8 L170.1 1270.6 L166.0 1269.9 L161.9 1269.7 z"/>
</g>
<circle cx="152.5" cy="1271.0" r="4.6" fill="#f4f6f6"/>
<rect x="121" y="1317.5" width="7" height="1.8" fill="#4a4f57"/><rect x="200" y="1317.5" width="8" height="1.8" fill="#4a4f57"/>
<text transform="translate(237.3 1271.4) rotate(-90) scale(.72 1)" font-size="12.5" fill="#4a4f57" text-anchor="middle">C</text>
<g fill="none" stroke="#7d838b" stroke-width="1.2">
<rect x="270.5" y="1231.5" width="47.5" height="86"/>
<line x1="266" y1="1317.5" x2="322" y2="1317.5" stroke-width="1.6"/>
<line x1="273.5" y1="1235" x2="273.5" y2="1317"/>
<line x1="270.5" y1="1235" x2="318" y2="1235"/>
</g>
<g fill="none" stroke="#4a4f57" stroke-width="1.3">
<rect x="277.5" y="1241.5" width="21" height="22.5" rx="1"/>
<circle cx="308.5" cy="1249" r="4.8"/><path d="M303.7 1249h9.6M308.5 1244.2v9.6" stroke-width="1"/>
</g>
<g fill="#4a4f57"><ellipse cx="302.5" cy="1271" rx="4.5" ry="2.2"/><ellipse cx="302.5" cy="1279" rx="4.5" ry="2.2"/>
<rect x="272.5" y="1252" width="2.5" height="3"/><rect x="272.5" y="1274" width="2.5" height="3"/><rect x="272.5" y="1296" width="2.5" height="3"/></g>
<g fill="none" stroke="#7d838b">
<rect x="112" y="1339.5" width="114" height="39.5" stroke-width="2.2" stroke="#868b92"/>
<rect x="117" y="1344" width="104.5" height="4.6" rx="2" stroke-width="1.1"/>
<rect x="117" y="1352" width="104.5" height="15.6" rx="1.5" stroke-width="1.1"/>
<rect x="117" y="1370" width="104.5" height="4.4" rx="2" stroke-width="1.1"/>
<path d="M104.5 1335V1382M104.5 1335.5H121M104.5 1381.5H112" stroke-width="1"/>
<path d="M111.7 1380V1389.5M226 1380V1389.5M111.5 1388.5H226" stroke-width="1"/>
<rect x="121.5" y="1335.5" width="6.5" height="3.5" rx="1.5" stroke-width="1"/><rect x="201.5" y="1335.5" width="6.5" height="3.5" rx="1.5" stroke-width="1"/>
<rect x="121.5" y="1380" width="6.5" height="3.5" rx="1.5" stroke-width="1"/><rect x="201.5" y="1380" width="6.5" height="3.5" rx="1.5" stroke-width="1"/>
<path d="M152.5 1360l2 2.5l-2 2.5l-2-2.5z" stroke="#4a4f57" stroke-width=".8"/>
</g>
<text transform="translate(103 1359) rotate(-90)" font-size="10" fill="#4a4f57" text-anchor="middle">B</text>
<text x="169" y="1387.5" font-size="11" fill="#4a4f57" text-anchor="middle">A</text>
<g fill="none" stroke="#7d838b" stroke-width="1.2">
<rect x="408.8" y="1201.5" width="40" height="121.5"/>
<line x1="405" y1="1323.3" x2="453" y2="1323.3" stroke-width="1.6"/>
<line x1="417.4" y1="1204" x2="417.4" y2="1323"/>
<line x1="408.8" y1="1204" x2="448.8" y2="1204"/>
</g>
<g fill="none" stroke="#4a4f57" stroke-width="2" stroke-linejoin="round">
<path d="M421.5 1206H441a2.5 2.5 0 0 1 2.5 2.5V1298a3 3 0 0 1 -3 3H436a3 3 0 0 0 -3 3v0a3 3 0 0 1 -3 3H422a3 3 0 0 1 -3 -3V1208.5a2.500 2.500 0 0 1 2.5 -2.5z"/>
<rect x="421.3" y="1208.3" width="16.4" height="16.2" rx="1.5" stroke-width="1.5"/>
<path d="M440.3 1209V1299" stroke-width="1.2"/>
<circle cx="433.2" cy="1243" r="3.6" stroke-width="1.2"/><circle cx="433.2" cy="1251.6" r="3.6" stroke-width="1.2"/>
</g>
<g fill="#4a4f57"><ellipse cx="433" cy="1230.2" rx="3.6" ry="1.6"/><ellipse cx="433" cy="1262.4" rx="3.6" ry="1.6"/><rect x="426" y="1222.5" width="8" height="1.6"/></g>
<g fill="none" stroke="#7d838b" stroke-width="1.2">
<rect x="471.3" y="1201.5" width="108.8" height="121.5"/>
<line x1="471.3" y1="1204" x2="580.1" y2="1204"/>
<line x1="541.6" y1="1204" x2="541.6" y2="1323"/>
<line x1="473.6" y1="1204" x2="473.6" y2="1323"/>
<path d="M580 1201.5H594M580 1323.5H594M593.2 1201V1324" stroke-width="1"/>
</g>
<rect x="544" y="1208" width="31.2" height="110" rx="3" fill="none" stroke="#4a4f57" stroke-width="1.4"/>
<rect x="560.3" y="1274" width="11.5" height="5" rx="2" fill="#f4f6f6" stroke="#4a4f57" stroke-width="1.6"/>
<clipPath id="g2"><rect x="477.4" y="1208.6" width="61.4" height="51.8" rx="2"/></clipPath>
<rect x="476.2" y="1207.4" width="63.8" height="54.2" rx="2" fill="#4a4f57"/>
<g clip-path="url(#g2)" fill="#a39280">
<path d="M517.7 1234.0 L521.5 1234.7 L525.2 1235.8 L528.8 1237.4 L532.2 1239.5 L535.5 1241.9 L538.5 1244.8 L541.3 1248.1 L543.8 1251.7 L546.0 1255.7 L547.8 1259.9 L546.5 1261.8 L544.9 1257.4 L543.0 1253.3 L540.6 1249.6 L538.0 1246.2 L535.1 1243.2 L531.9 1240.6 L528.6 1238.4 L525.1 1236.6 L521.4 1235.3 L517.7 1234.4 z"/>
<path d="M517.6 1235.5 L521.2 1236.9 L524.7 1238.6 L527.9 1240.8 L531.0 1243.4 L533.8 1246.3 L536.4 1249.7 L538.6 1253.3 L540.4 1257.3 L541.9 1261.6 L543.0 1266.1 L541.5 1267.7 L540.6 1263.1 L539.3 1258.8 L537.7 1254.7 L535.6 1251.0 L533.2 1247.5 L530.6 1244.4 L527.6 1241.7 L524.4 1239.4 L521.1 1237.5 L517.5 1236.0 z"/>
<path d="M517.3 1237.1 L520.6 1239.0 L523.7 1241.3 L526.6 1243.9 L529.2 1247.0 L531.5 1250.4 L533.4 1254.1 L535.0 1258.1 L536.2 1262.3 L537.0 1266.8 L537.3 1271.4 L535.5 1272.7 L535.4 1268.1 L534.9 1263.6 L533.9 1259.3 L532.5 1255.2 L530.7 1251.5 L528.6 1248.0 L526.1 1244.8 L523.4 1242.0 L520.3 1239.5 L517.1 1237.5 z"/>
<path d="M516.7 1238.5 L519.6 1240.9 L522.3 1243.7 L524.7 1246.8 L526.8 1250.3 L528.5 1254.0 L529.8 1258.0 L530.7 1262.2 L531.2 1266.5 L531.2 1271.1 L530.8 1275.7 L528.8 1276.7 L529.5 1272.1 L529.7 1267.6 L529.4 1263.2 L528.7 1258.9 L527.6 1254.9 L526.0 1251.1 L524.1 1247.6 L521.9 1244.4 L519.3 1241.5 L516.4 1238.9 z"/>
<path d="M515.8 1239.9 L518.4 1242.7 L520.6 1245.9 L522.4 1249.4 L523.9 1253.1 L525.0 1257.1 L525.6 1261.2 L525.8 1265.5 L525.6 1269.9 L524.8 1274.3 L523.6 1278.8 L521.5 1279.5 L522.9 1275.1 L523.9 1270.6 L524.3 1266.3 L524.3 1262.0 L523.9 1257.8 L523.0 1253.8 L521.7 1250.0 L520.0 1246.5 L518.0 1243.2 L515.6 1240.2 z"/>
<path d="M514.8 1241.0 L516.8 1244.3 L518.5 1247.8 L519.7 1251.5 L520.6 1255.4 L521.0 1259.5 L520.9 1263.7 L520.4 1268.0 L519.4 1272.2 L518.0 1276.5 L516.1 1280.8 L513.9 1281.1 L516.0 1276.9 L517.7 1272.7 L518.8 1268.5 L519.5 1264.3 L519.8 1260.1 L519.6 1256.0 L518.9 1252.0 L517.8 1248.3 L516.3 1244.7 L514.5 1241.3 z"/>
<path d="M513.6 1242.0 L515.0 1245.6 L516.1 1249.3 L516.7 1253.2 L516.9 1257.2 L516.6 1261.3 L515.9 1265.4 L514.7 1269.5 L513.0 1273.6 L510.9 1277.6 L508.3 1281.4 L506.1 1281.4 L508.9 1277.6 L511.2 1273.8 L513.0 1269.8 L514.4 1265.7 L515.4 1261.6 L515.8 1257.6 L515.8 1253.6 L515.4 1249.7 L514.5 1245.9 L513.2 1242.3 z"/>
<path d="M512.2 1242.8 L513.1 1246.5 L513.5 1250.4 L513.5 1254.3 L513.0 1258.3 L512.1 1262.3 L510.7 1266.2 L508.8 1270.1 L506.5 1273.8 L503.7 1277.4 L500.5 1280.8 L498.4 1280.4 L501.7 1277.2 L504.6 1273.7 L507.1 1270.1 L509.2 1266.3 L510.7 1262.4 L511.9 1258.5 L512.5 1254.6 L512.7 1250.6 L512.5 1246.8 L511.8 1243.0 z"/>
<path d="M510.7 1243.4 L511.0 1247.2 L510.8 1251.0 L510.1 1254.9 L509.0 1258.8 L507.4 1262.5 L505.4 1266.2 L502.9 1269.7 L500.0 1273.0 L496.7 1276.1 L493.0 1278.9 L490.9 1278.1 L494.7 1275.5 L498.2 1272.6 L501.2 1269.4 L503.9 1266.0 L506.1 1262.5 L507.8 1258.8 L509.1 1255.0 L510.0 1251.1 L510.4 1247.3 L510.3 1243.5 z"/>
<path d="M509.2 1243.6 L508.8 1247.5 L508.0 1251.2 L506.7 1255.0 L504.9 1258.6 L502.7 1262.0 L500.1 1265.3 L497.1 1268.3 L493.7 1271.1 L489.9 1273.6 L485.8 1275.8 L483.9 1274.7 L488.1 1272.7 L492.0 1270.4 L495.5 1267.8 L498.7 1264.9 L501.4 1261.7 L503.8 1258.4 L505.7 1254.9 L507.2 1251.2 L508.2 1247.5 L508.8 1243.7 z"/>
<path d="M507.6 1243.7 L506.6 1247.4 L505.2 1251.0 L503.3 1254.4 L501.0 1257.7 L498.2 1260.7 L495.1 1263.5 L491.6 1266.1 L487.8 1268.2 L483.7 1270.1 L479.3 1271.5 L477.6 1270.1 L482.0 1268.9 L486.3 1267.3 L490.2 1265.2 L493.8 1262.9 L497.0 1260.3 L499.9 1257.3 L502.3 1254.2 L504.4 1250.8 L506.0 1247.3 L507.2 1243.6 z"/>
<path d="M506.1 1243.5 L504.5 1246.9 L502.4 1250.2 L500.0 1253.3 L497.2 1256.2 L494.0 1258.7 L490.5 1261.0 L486.6 1262.9 L482.5 1264.4 L478.1 1265.5 L473.5 1266.2 L472.1 1264.6 L476.7 1264.1 L481.1 1263.2 L485.3 1261.9 L489.2 1260.1 L492.9 1258.1 L496.2 1255.6 L499.1 1252.9 L501.7 1250.0 L503.9 1246.7 L505.7 1243.4 z"/>
<path d="M504.6 1243.0 L502.4 1246.2 L499.9 1249.1 L497.0 1251.7 L493.7 1254.1 L490.2 1256.1 L486.3 1257.7 L482.2 1259.0 L477.9 1259.8 L473.4 1260.2 L468.7 1260.1 L467.6 1258.2 L472.2 1258.5 L476.7 1258.3 L481.1 1257.7 L485.2 1256.7 L489.1 1255.2 L492.8 1253.4 L496.2 1251.2 L499.2 1248.7 L501.9 1245.9 L504.2 1242.8 z"/>
<path d="M503.2 1242.3 L500.5 1245.0 L497.5 1247.5 L494.2 1249.6 L490.6 1251.4 L486.8 1252.8 L482.7 1253.8 L478.5 1254.3 L474.1 1254.4 L469.6 1254.1 L465.0 1253.3 L464.2 1251.2 L468.7 1252.3 L473.2 1252.8 L477.6 1252.9 L481.8 1252.6 L486.0 1251.8 L489.9 1250.6 L493.5 1249.0 L496.9 1247.0 L500.0 1244.7 L502.8 1242.0 z"/>
<path d="M501.9 1241.3 L498.9 1243.6 L495.5 1245.6 L491.9 1247.1 L488.1 1248.3 L484.0 1249.0 L479.9 1249.3 L475.6 1249.2 L471.2 1248.5 L466.8 1247.5 L462.5 1245.9 L462.0 1243.7 L466.3 1245.5 L470.6 1246.8 L474.9 1247.6 L479.2 1248.0 L483.4 1247.9 L487.4 1247.3 L491.3 1246.3 L495.0 1245.0 L498.4 1243.2 L501.6 1241.0 z"/>
<path d="M500.8 1240.2 L497.4 1242.0 L493.8 1243.3 L490.0 1244.3 L486.0 1244.8 L481.9 1244.8 L477.8 1244.5 L473.6 1243.6 L469.4 1242.3 L465.2 1240.5 L461.2 1238.2 L461.0 1236.0 L465.0 1238.5 L469.0 1240.4 L473.2 1242.0 L477.3 1243.0 L481.4 1243.6 L485.5 1243.7 L489.5 1243.4 L493.4 1242.6 L497.1 1241.4 L500.6 1239.9 z"/>
<path d="M500.0 1238.9 L496.3 1240.1 L492.5 1240.8 L488.6 1241.1 L484.6 1241.0 L480.5 1240.4 L476.5 1239.3 L472.5 1237.8 L468.6 1235.8 L464.8 1233.3 L461.1 1230.4 L461.4 1228.2 L464.9 1231.3 L468.5 1233.9 L472.4 1236.1 L476.3 1237.8 L480.3 1239.1 L484.3 1239.9 L488.3 1240.2 L492.2 1240.1 L496.0 1239.5 L499.7 1238.5 z"/>
<path d="M499.3 1237.5 L495.5 1238.0 L491.6 1238.2 L487.7 1237.8 L483.8 1237.0 L479.9 1235.7 L476.1 1234.0 L472.4 1231.8 L468.8 1229.2 L465.5 1226.2 L462.4 1222.7 L463.0 1220.6 L465.9 1224.2 L469.1 1227.4 L472.5 1230.2 L476.1 1232.5 L479.8 1234.4 L483.7 1235.9 L487.6 1236.8 L491.5 1237.4 L495.3 1237.4 L499.1 1237.1 z"/>
<path d="M498.9 1236.0 L495.0 1235.9 L491.2 1235.4 L487.4 1234.4 L483.6 1232.9 L480.0 1231.1 L476.5 1228.7 L473.3 1226.0 L470.2 1222.8 L467.4 1219.2 L464.9 1215.3 L465.9 1213.3 L468.2 1217.4 L470.8 1221.0 L473.7 1224.3 L476.8 1227.3 L480.2 1229.7 L483.7 1231.8 L487.4 1233.4 L491.2 1234.6 L495.0 1235.3 L498.8 1235.5 z"/>
<path d="M498.7 1234.4 L494.9 1233.7 L491.2 1232.6 L487.6 1231.0 L484.2 1228.9 L480.9 1226.5 L477.9 1223.6 L475.1 1220.3 L472.6 1216.7 L470.4 1212.7 L468.6 1208.5 L469.9 1206.6 L471.5 1211.0 L473.4 1215.1 L475.8 1218.8 L478.4 1222.2 L481.3 1225.2 L484.5 1227.8 L487.8 1230.0 L491.3 1231.8 L495.0 1233.1 L498.7 1234.0 z"/>
<path d="M498.8 1232.9 L495.2 1231.5 L491.7 1229.8 L488.5 1227.6 L485.4 1225.0 L482.6 1222.1 L480.0 1218.7 L477.8 1215.1 L476.0 1211.1 L474.5 1206.8 L473.4 1202.3 L474.9 1200.7 L475.8 1205.3 L477.1 1209.6 L478.7 1213.7 L480.8 1217.4 L483.2 1220.9 L485.8 1224.0 L488.8 1226.7 L492.0 1229.0 L495.3 1230.9 L498.9 1232.4 z"/>
<path d="M499.1 1231.3 L495.8 1229.4 L492.7 1227.1 L489.8 1224.5 L487.2 1221.4 L484.9 1218.0 L483.0 1214.3 L481.4 1210.3 L480.2 1206.1 L479.4 1201.6 L479.1 1197.0 L480.9 1195.7 L481.0 1200.3 L481.5 1204.8 L482.5 1209.1 L483.9 1213.2 L485.7 1216.9 L487.8 1220.4 L490.3 1223.6 L493.0 1226.4 L496.1 1228.9 L499.3 1230.9 z"/>
<path d="M499.7 1229.9 L496.8 1227.5 L494.1 1224.7 L491.7 1221.6 L489.6 1218.1 L487.9 1214.4 L486.6 1210.4 L485.7 1206.2 L485.2 1201.9 L485.2 1197.3 L485.6 1192.7 L487.6 1191.7 L486.9 1196.3 L486.7 1200.8 L487.0 1205.2 L487.7 1209.5 L488.8 1213.5 L490.4 1217.3 L492.3 1220.8 L494.5 1224.0 L497.1 1226.9 L500.0 1229.5 z"/>
<path d="M500.6 1228.5 L498.0 1225.7 L495.8 1222.5 L494.0 1219.0 L492.5 1215.3 L491.4 1211.3 L490.8 1207.2 L490.6 1202.9 L490.8 1198.5 L491.6 1194.1 L492.8 1189.6 L494.9 1188.9 L493.5 1193.3 L492.5 1197.8 L492.1 1202.1 L492.1 1206.4 L492.5 1210.6 L493.4 1214.6 L494.7 1218.4 L496.4 1221.9 L498.4 1225.2 L500.8 1228.2 z"/>
<path d="M501.6 1227.4 L499.6 1224.1 L497.9 1220.6 L496.7 1216.9 L495.8 1213.0 L495.4 1208.9 L495.5 1204.7 L496.0 1200.4 L497.0 1196.2 L498.4 1191.9 L500.3 1187.6 L502.5 1187.3 L500.4 1191.5 L498.7 1195.7 L497.6 1199.9 L496.9 1204.1 L496.6 1208.3 L496.8 1212.4 L497.5 1216.4 L498.6 1220.1 L500.1 1223.7 L501.9 1227.1 z"/>
<path d="M502.8 1226.4 L501.4 1222.8 L500.3 1219.1 L499.7 1215.2 L499.5 1211.2 L499.8 1207.1 L500.5 1203.0 L501.7 1198.9 L503.4 1194.8 L505.5 1190.8 L508.1 1187.0 L510.3 1187.0 L507.5 1190.8 L505.2 1194.6 L503.4 1198.6 L502.0 1202.7 L501.0 1206.8 L500.6 1210.8 L500.6 1214.8 L501.0 1218.7 L501.9 1222.5 L503.2 1226.1 z"/>
<path d="M504.2 1225.6 L503.3 1221.9 L502.9 1218.0 L502.9 1214.1 L503.4 1210.1 L504.3 1206.1 L505.7 1202.2 L507.6 1198.3 L509.9 1194.6 L512.7 1191.0 L515.9 1187.6 L518.0 1188.0 L514.7 1191.2 L511.8 1194.7 L509.3 1198.3 L507.2 1202.1 L505.7 1206.0 L504.5 1209.9 L503.9 1213.8 L503.7 1217.8 L503.9 1221.6 L504.6 1225.4 z"/>
<path d="M505.7 1225.0 L505.4 1221.2 L505.6 1217.4 L506.3 1213.5 L507.4 1209.6 L509.0 1205.9 L511.0 1202.2 L513.5 1198.7 L516.4 1195.4 L519.7 1192.3 L523.4 1189.5 L525.5 1190.3 L521.7 1192.9 L518.2 1195.8 L515.2 1199.0 L512.5 1202.4 L510.3 1205.9 L508.6 1209.6 L507.3 1213.4 L506.4 1217.3 L506.0 1221.1 L506.1 1224.9 z"/>
<path d="M507.2 1224.8 L507.6 1220.9 L508.4 1217.2 L509.7 1213.4 L511.5 1209.8 L513.7 1206.4 L516.3 1203.1 L519.3 1200.1 L522.7 1197.3 L526.5 1194.8 L530.6 1192.6 L532.5 1193.7 L528.3 1195.7 L524.4 1198.0 L520.9 1200.6 L517.7 1203.5 L515.0 1206.7 L512.6 1210.0 L510.7 1213.5 L509.2 1217.2 L508.2 1220.9 L507.6 1224.7 z"/>
<path d="M508.8 1224.7 L509.8 1221.0 L511.2 1217.4 L513.1 1214.0 L515.4 1210.7 L518.2 1207.7 L521.3 1204.9 L524.8 1202.3 L528.6 1200.2 L532.7 1198.3 L537.1 1196.9 L538.8 1198.3 L534.4 1199.5 L530.1 1201.1 L526.2 1203.2 L522.6 1205.5 L519.4 1208.1 L516.5 1211.1 L514.1 1214.2 L512.0 1217.6 L510.4 1221.1 L509.2 1224.8 z"/>
<path d="M510.3 1224.9 L511.9 1221.5 L514.0 1218.2 L516.4 1215.1 L519.2 1212.2 L522.4 1209.7 L525.9 1207.4 L529.8 1205.5 L533.9 1204.0 L538.3 1202.9 L542.9 1202.2 L544.3 1203.8 L539.7 1204.3 L535.3 1205.2 L531.1 1206.5 L527.2 1208.3 L523.5 1210.3 L520.2 1212.8 L517.3 1215.5 L514.7 1218.4 L512.5 1221.7 L510.7 1225.0 z"/>
<path d="M511.8 1225.4 L514.0 1222.2 L516.5 1219.3 L519.4 1216.7 L522.7 1214.3 L526.2 1212.3 L530.1 1210.7 L534.2 1209.4 L538.5 1208.6 L543.0 1208.2 L547.7 1208.3 L548.8 1210.2 L544.2 1209.9 L539.7 1210.1 L535.3 1210.7 L531.2 1211.7 L527.3 1213.2 L523.6 1215.0 L520.2 1217.2 L517.2 1219.7 L514.5 1222.5 L512.2 1225.6 z"/>
<path d="M513.2 1226.1 L515.9 1223.4 L518.9 1220.9 L522.2 1218.8 L525.8 1217.0 L529.6 1215.6 L533.7 1214.6 L537.9 1214.1 L542.3 1214.0 L546.8 1214.3 L551.4 1215.1 L552.2 1217.2 L547.7 1216.1 L543.2 1215.6 L538.8 1215.5 L534.6 1215.8 L530.4 1216.6 L526.5 1217.8 L522.9 1219.4 L519.5 1221.4 L516.4 1223.7 L513.6 1226.4 z"/>
<path d="M514.5 1227.1 L517.5 1224.8 L520.9 1222.8 L524.5 1221.3 L528.3 1220.1 L532.4 1219.4 L536.5 1219.1 L540.8 1219.2 L545.2 1219.9 L549.6 1220.9 L553.9 1222.5 L554.4 1224.7 L550.1 1222.9 L545.8 1221.6 L541.5 1220.8 L537.2 1220.4 L533.0 1220.5 L529.0 1221.1 L525.1 1222.1 L521.4 1223.4 L518.0 1225.2 L514.8 1227.4 z"/>
<path d="M515.6 1228.2 L519.0 1226.4 L522.6 1225.1 L526.4 1224.1 L530.4 1223.6 L534.5 1223.6 L538.6 1223.9 L542.8 1224.8 L547.0 1226.1 L551.2 1227.9 L555.2 1230.2 L555.4 1232.4 L551.4 1229.9 L547.4 1228.0 L543.2 1226.4 L539.1 1225.4 L535.0 1224.8 L530.9 1224.7 L526.9 1225.0 L523.0 1225.8 L519.3 1227.0 L515.8 1228.5 z"/>
<path d="M516.4 1229.5 L520.1 1228.3 L523.9 1227.6 L527.8 1227.3 L531.8 1227.4 L535.9 1228.0 L539.9 1229.1 L543.9 1230.6 L547.8 1232.6 L551.6 1235.1 L555.3 1238.0 L555.0 1240.2 L551.5 1237.1 L547.9 1234.5 L544.0 1232.3 L540.1 1230.6 L536.1 1229.3 L532.1 1228.5 L528.1 1228.2 L524.2 1228.3 L520.4 1228.9 L516.7 1229.9 z"/>
<path d="M517.1 1230.9 L520.9 1230.4 L524.8 1230.2 L528.7 1230.6 L532.6 1231.4 L536.5 1232.7 L540.3 1234.4 L544.0 1236.6 L547.6 1239.2 L550.9 1242.2 L554.0 1245.7 L553.4 1247.8 L550.5 1244.2 L547.3 1241.0 L543.9 1238.2 L540.3 1235.9 L536.6 1234.0 L532.7 1232.5 L528.8 1231.6 L524.9 1231.0 L521.1 1231.0 L517.3 1231.3 z"/>
<path d="M517.5 1232.4 L521.4 1232.5 L525.2 1233.0 L529.0 1234.0 L532.8 1235.5 L536.4 1237.3 L539.9 1239.7 L543.1 1242.4 L546.2 1245.6 L549.0 1249.2 L551.5 1253.1 L550.5 1255.1 L548.2 1251.0 L545.6 1247.4 L542.7 1244.1 L539.6 1241.1 L536.2 1238.7 L532.7 1236.6 L529.0 1235.0 L525.2 1233.8 L521.4 1233.1 L517.6 1232.9 z"/>
</g>
<circle cx="508.2" cy="1234.2" r="4.6" fill="#f4f6f6"/>
<clipPath id="g3"><rect x="477.4" y="1265.2" width="61.4" height="52.0" rx="2"/></clipPath>
<rect x="476.2" y="1264.0" width="63.8" height="54.4" rx="2" fill="#4a4f57"/>
<g clip-path="url(#g3)" fill="#a39280">
<path d="M517.7 1291.3 L521.5 1292.0 L525.2 1293.1 L528.8 1294.7 L532.2 1296.8 L535.5 1299.2 L538.5 1302.1 L541.3 1305.4 L543.8 1309.0 L546.0 1313.0 L547.8 1317.2 L546.5 1319.1 L544.9 1314.7 L543.0 1310.6 L540.6 1306.9 L538.0 1303.5 L535.1 1300.5 L531.9 1297.9 L528.6 1295.7 L525.1 1293.9 L521.4 1292.6 L517.7 1291.7 z"/>
<path d="M517.6 1292.8 L521.2 1294.2 L524.7 1295.9 L527.9 1298.1 L531.0 1300.7 L533.8 1303.6 L536.4 1307.0 L538.6 1310.6 L540.4 1314.6 L541.9 1318.9 L543.0 1323.4 L541.5 1325.0 L540.6 1320.4 L539.3 1316.1 L537.7 1312.0 L535.6 1308.3 L533.2 1304.8 L530.6 1301.7 L527.6 1299.0 L524.4 1296.7 L521.1 1294.8 L517.5 1293.3 z"/>
<path d="M517.3 1294.4 L520.6 1296.3 L523.7 1298.6 L526.6 1301.2 L529.2 1304.3 L531.5 1307.7 L533.4 1311.4 L535.0 1315.4 L536.2 1319.6 L537.0 1324.1 L537.3 1328.7 L535.5 1330.0 L535.4 1325.4 L534.9 1320.9 L533.9 1316.6 L532.5 1312.5 L530.7 1308.8 L528.6 1305.3 L526.1 1302.1 L523.4 1299.3 L520.3 1296.8 L517.1 1294.8 z"/>
<path d="M516.7 1295.8 L519.6 1298.2 L522.3 1301.0 L524.7 1304.1 L526.8 1307.6 L528.5 1311.3 L529.8 1315.3 L530.7 1319.5 L531.2 1323.8 L531.2 1328.4 L530.8 1333.0 L528.8 1334.0 L529.5 1329.4 L529.7 1324.9 L529.4 1320.5 L528.7 1316.2 L527.6 1312.2 L526.0 1308.4 L524.1 1304.9 L521.9 1301.7 L519.3 1298.8 L516.4 1296.2 z"/>
<path d="M515.8 1297.2 L518.4 1300.0 L520.6 1303.2 L522.4 1306.7 L523.9 1310.4 L525.0 1314.4 L525.6 1318.5 L525.8 1322.8 L525.6 1327.2 L524.8 1331.6 L523.6 1336.1 L521.5 1336.8 L522.9 1332.4 L523.9 1327.9 L524.3 1323.6 L524.3 1319.3 L523.9 1315.1 L523.0 1311.1 L521.7 1307.3 L520.0 1303.8 L518.0 1300.5 L515.6 1297.5 z"/>
<path d="M514.8 1298.3 L516.8 1301.6 L518.5 1305.1 L519.7 1308.8 L520.6 1312.7 L521.0 1316.8 L520.9 1321.0 L520.4 1325.3 L519.4 1329.5 L518.0 1333.8 L516.1 1338.1 L513.9 1338.4 L516.0 1334.2 L517.7 1330.0 L518.8 1325.8 L519.5 1321.6 L519.8 1317.4 L519.6 1313.3 L518.9 1309.3 L517.8 1305.6 L516.3 1302.0 L514.5 1298.6 z"/>
<path d="M513.6 1299.3 L515.0 1302.9 L516.1 1306.6 L516.7 1310.5 L516.9 1314.5 L516.6 1318.6 L515.9 1322.7 L514.7 1326.8 L513.0 1330.9 L510.9 1334.9 L508.3 1338.7 L506.1 1338.7 L508.9 1334.9 L511.2 1331.1 L513.0 1327.1 L514.4 1323.0 L515.4 1318.9 L515.8 1314.9 L515.8 1310.9 L515.4 1307.0 L514.5 1303.2 L513.2 1299.6 z"/>
<path d="M512.2 1300.1 L513.1 1303.8 L513.5 1307.7 L513.5 1311.6 L513.0 1315.6 L512.1 1319.6 L510.7 1323.5 L508.8 1327.4 L506.5 1331.1 L503.7 1334.7 L500.5 1338.1 L498.4 1337.7 L501.7 1334.5 L504.6 1331.0 L507.1 1327.4 L509.2 1323.6 L510.7 1319.7 L511.9 1315.8 L512.5 1311.9 L512.7 1307.9 L512.5 1304.1 L511.8 1300.3 z"/>
<path d="M510.7 1300.7 L511.0 1304.5 L510.8 1308.3 L510.1 1312.2 L509.0 1316.1 L507.4 1319.8 L505.4 1323.5 L502.9 1327.0 L500.0 1330.3 L496.7 1333.4 L493.0 1336.2 L490.9 1335.4 L494.7 1332.8 L498.2 1329.9 L501.2 1326.7 L503.9 1323.3 L506.1 1319.8 L507.8 1316.1 L509.1 1312.3 L510.0 1308.4 L510.4 1304.6 L510.3 1300.8 z"/>
<path d="M509.2 1300.9 L508.8 1304.8 L508.0 1308.5 L506.7 1312.3 L504.9 1315.9 L502.7 1319.3 L500.1 1322.6 L497.1 1325.6 L493.7 1328.4 L489.9 1330.9 L485.8 1333.1 L483.9 1332.0 L488.1 1330.0 L492.0 1327.7 L495.5 1325.1 L498.7 1322.2 L501.4 1319.0 L503.8 1315.7 L505.7 1312.2 L507.2 1308.5 L508.2 1304.8 L508.8 1301.0 z"/>
<path d="M507.6 1301.0 L506.6 1304.7 L505.2 1308.3 L503.3 1311.7 L501.0 1315.0 L498.2 1318.0 L495.1 1320.8 L491.6 1323.4 L487.8 1325.5 L483.7 1327.4 L479.3 1328.8 L477.6 1327.4 L482.0 1326.2 L486.3 1324.6 L490.2 1322.5 L493.8 1320.2 L497.0 1317.6 L499.9 1314.6 L502.3 1311.5 L504.4 1308.1 L506.0 1304.6 L507.2 1300.9 z"/>
<path d="M506.1 1300.8 L504.5 1304.2 L502.4 1307.5 L500.0 1310.6 L497.2 1313.5 L494.0 1316.0 L490.5 1318.3 L486.6 1320.2 L482.5 1321.7 L478.1 1322.8 L473.5 1323.5 L472.1 1321.9 L476.7 1321.4 L481.1 1320.5 L485.3 1319.2 L489.2 1317.4 L492.9 1315.4 L496.2 1312.9 L499.1 1310.2 L501.7 1307.3 L503.9 1304.0 L505.7 1300.7 z"/>
<path d="M504.6 1300.3 L502.4 1303.5 L499.9 1306.4 L497.0 1309.0 L493.7 1311.4 L490.2 1313.4 L486.3 1315.0 L482.2 1316.3 L477.9 1317.1 L473.4 1317.5 L468.7 1317.4 L467.6 1315.5 L472.2 1315.8 L476.7 1315.6 L481.1 1315.0 L485.2 1314.0 L489.1 1312.5 L492.8 1310.7 L496.2 1308.5 L499.2 1306.0 L501.9 1303.2 L504.2 1300.1 z"/>
<path d="M503.2 1299.6 L500.5 1302.3 L497.5 1304.8 L494.2 1306.9 L490.6 1308.7 L486.8 1310.1 L482.7 1311.1 L478.5 1311.6 L474.1 1311.7 L469.6 1311.4 L465.0 1310.6 L464.2 1308.5 L468.7 1309.6 L473.2 1310.1 L477.6 1310.2 L481.8 1309.9 L486.0 1309.1 L489.9 1307.9 L493.5 1306.3 L496.9 1304.3 L500.0 1302.0 L502.8 1299.3 z"/>
<path d="M501.9 1298.6 L498.9 1300.9 L495.5 1302.9 L491.9 1304.4 L488.1 1305.6 L484.0 1306.3 L479.9 1306.6 L475.6 1306.5 L471.2 1305.8 L466.8 1304.8 L462.5 1303.2 L462.0 1301.0 L466.3 1302.8 L470.6 1304.1 L474.9 1304.9 L479.2 1305.3 L483.4 1305.2 L487.4 1304.6 L491.3 1303.6 L495.0 1302.3 L498.4 1300.5 L501.6 1298.3 z"/>
<path d="M500.8 1297.5 L497.4 1299.3 L493.8 1300.6 L490.0 1301.6 L486.0 1302.1 L481.9 1302.1 L477.8 1301.8 L473.6 1300.9 L469.4 1299.6 L465.2 1297.8 L461.2 1295.5 L461.0 1293.3 L465.0 1295.8 L469.0 1297.7 L473.2 1299.3 L477.3 1300.3 L481.4 1300.9 L485.5 1301.0 L489.5 1300.7 L493.4 1299.9 L497.1 1298.7 L500.6 1297.2 z"/>
<path d="M500.0 1296.2 L496.3 1297.4 L492.5 1298.1 L488.6 1298.4 L484.6 1298.3 L480.5 1297.7 L476.5 1296.6 L472.5 1295.1 L468.6 1293.1 L464.8 1290.6 L461.1 1287.7 L461.4 1285.5 L464.9 1288.6 L468.5 1291.2 L472.4 1293.4 L476.3 1295.1 L480.3 1296.4 L484.3 1297.2 L488.3 1297.5 L492.2 1297.4 L496.0 1296.8 L499.7 1295.8 z"/>
<path d="M499.3 1294.8 L495.5 1295.3 L491.6 1295.5 L487.7 1295.1 L483.8 1294.3 L479.9 1293.0 L476.1 1291.3 L472.4 1289.1 L468.8 1286.5 L465.5 1283.5 L462.4 1280.0 L463.0 1277.9 L465.9 1281.5 L469.1 1284.7 L472.5 1287.5 L476.1 1289.8 L479.8 1291.7 L483.7 1293.2 L487.6 1294.1 L491.5 1294.7 L495.3 1294.7 L499.1 1294.4 z"/>
<path d="M498.9 1293.3 L495.0 1293.2 L491.2 1292.7 L487.4 1291.7 L483.6 1290.2 L480.0 1288.4 L476.5 1286.0 L473.3 1283.3 L470.2 1280.1 L467.4 1276.5 L464.9 1272.6 L465.9 1270.6 L468.2 1274.7 L470.8 1278.3 L473.7 1281.6 L476.8 1284.6 L480.2 1287.0 L483.7 1289.1 L487.4 1290.7 L491.2 1291.9 L495.0 1292.6 L498.8 1292.8 z"/>
<path d="M498.7 1291.7 L494.9 1291.0 L491.2 1289.9 L487.6 1288.3 L484.2 1286.2 L480.9 1283.8 L477.9 1280.9 L475.1 1277.6 L472.6 1274.0 L470.4 1270.0 L468.6 1265.8 L469.9 1263.9 L471.5 1268.3 L473.4 1272.4 L475.8 1276.1 L478.4 1279.5 L481.3 1282.5 L484.5 1285.1 L487.8 1287.3 L491.3 1289.1 L495.0 1290.4 L498.7 1291.3 z"/>
<path d="M498.8 1290.2 L495.2 1288.8 L491.7 1287.1 L488.5 1284.9 L485.4 1282.3 L482.6 1279.4 L480.0 1276.0 L477.8 1272.4 L476.0 1268.4 L474.5 1264.1 L473.4 1259.6 L474.9 1258.0 L475.8 1262.6 L477.1 1266.9 L478.7 1271.0 L480.8 1274.7 L483.2 1278.2 L485.8 1281.3 L488.8 1284.0 L492.0 1286.3 L495.3 1288.2 L498.9 1289.7 z"/>
<path d="M499.1 1288.6 L495.8 1286.7 L492.7 1284.4 L489.8 1281.8 L487.2 1278.7 L484.9 1275.3 L483.0 1271.6 L481.4 1267.6 L480.2 1263.4 L479.4 1258.9 L479.1 1254.3 L480.9 1253.0 L481.0 1257.6 L481.5 1262.1 L482.5 1266.4 L483.9 1270.5 L485.7 1274.2 L487.8 1277.7 L490.3 1280.9 L493.0 1283.7 L496.1 1286.2 L499.3 1288.2 z"/>
<path d="M499.7 1287.2 L496.8 1284.8 L494.1 1282.0 L491.7 1278.9 L489.6 1275.4 L487.9 1271.7 L486.6 1267.7 L485.7 1263.5 L485.2 1259.2 L485.2 1254.6 L485.6 1250.0 L487.6 1249.0 L486.9 1253.6 L486.7 1258.1 L487.0 1262.5 L487.7 1266.8 L488.8 1270.8 L490.4 1274.6 L492.3 1278.1 L494.5 1281.3 L497.1 1284.2 L500.0 1286.8 z"/>
<path d="M500.6 1285.8 L498.0 1283.0 L495.8 1279.8 L494.0 1276.3 L492.5 1272.6 L491.4 1268.6 L490.8 1264.5 L490.6 1260.2 L490.8 1255.8 L491.6 1251.4 L492.8 1246.9 L494.9 1246.2 L493.5 1250.6 L492.5 1255.1 L492.1 1259.4 L492.1 1263.7 L492.5 1267.9 L493.4 1271.9 L494.7 1275.7 L496.4 1279.2 L498.4 1282.5 L500.8 1285.5 z"/>
<path d="M501.6 1284.7 L499.6 1281.4 L497.9 1277.9 L496.7 1274.2 L495.8 1270.3 L495.4 1266.2 L495.5 1262.0 L496.0 1257.7 L497.0 1253.5 L498.4 1249.2 L500.3 1244.9 L502.5 1244.6 L500.4 1248.8 L498.7 1253.0 L497.6 1257.2 L496.9 1261.4 L496.6 1265.6 L496.8 1269.7 L497.5 1273.7 L498.6 1277.4 L500.1 1281.0 L501.9 1284.4 z"/>
<path d="M502.8 1283.7 L501.4 1280.1 L500.3 1276.4 L499.7 1272.5 L499.5 1268.5 L499.8 1264.4 L500.5 1260.3 L501.7 1256.2 L503.4 1252.1 L505.5 1248.1 L508.1 1244.3 L510.3 1244.3 L507.5 1248.1 L505.2 1251.9 L503.4 1255.9 L502.0 1260.0 L501.0 1264.1 L500.6 1268.1 L500.6 1272.1 L501.0 1276.0 L501.9 1279.8 L503.2 1283.4 z"/>
<path d="M504.2 1282.9 L503.3 1279.2 L502.9 1275.3 L502.9 1271.4 L503.4 1267.4 L504.3 1263.4 L505.7 1259.5 L507.6 1255.6 L509.9 1251.9 L512.7 1248.3 L515.9 1244.9 L518.0 1245.3 L514.7 1248.5 L511.8 1252.0 L509.3 1255.6 L507.2 1259.4 L505.7 1263.3 L504.5 1267.2 L503.9 1271.1 L503.7 1275.1 L503.9 1278.9 L504.6 1282.7 z"/>
<path d="M505.7 1282.3 L505.4 1278.5 L505.6 1274.7 L506.3 1270.8 L507.4 1266.9 L509.0 1263.2 L511.0 1259.5 L513.5 1256.0 L516.4 1252.7 L519.7 1249.6 L523.4 1246.8 L525.5 1247.6 L521.7 1250.2 L518.2 1253.1 L515.2 1256.3 L512.5 1259.7 L510.3 1263.2 L508.6 1266.9 L507.3 1270.7 L506.4 1274.6 L506.0 1278.4 L506.1 1282.2 z"/>
<path d="M507.2 1282.1 L507.6 1278.2 L508.4 1274.5 L509.7 1270.7 L511.5 1267.1 L513.7 1263.7 L516.3 1260.4 L519.3 1257.4 L522.7 1254.6 L526.5 1252.1 L530.6 1249.9 L532.5 1251.0 L528.3 1253.0 L524.4 1255.3 L520.9 1257.9 L517.7 1260.8 L515.0 1264.0 L512.6 1267.3 L510.7 1270.8 L509.2 1274.5 L508.2 1278.2 L507.6 1282.0 z"/>
<path d="M508.8 1282.0 L509.8 1278.3 L511.2 1274.7 L513.1 1271.3 L515.4 1268.0 L518.2 1265.0 L521.3 1262.2 L524.8 1259.6 L528.6 1257.5 L532.7 1255.6 L537.1 1254.2 L538.8 1255.6 L534.4 1256.8 L530.1 1258.4 L526.2 1260.5 L522.6 1262.8 L519.4 1265.4 L516.5 1268.4 L514.1 1271.5 L512.0 1274.9 L510.4 1278.4 L509.2 1282.1 z"/>
<path d="M510.3 1282.2 L511.9 1278.8 L514.0 1275.5 L516.4 1272.4 L519.2 1269.5 L522.4 1267.0 L525.9 1264.7 L529.8 1262.8 L533.9 1261.3 L538.3 1260.2 L542.9 1259.5 L544.3 1261.1 L539.7 1261.6 L535.3 1262.5 L531.1 1263.8 L527.2 1265.6 L523.5 1267.6 L520.2 1270.1 L517.3 1272.8 L514.7 1275.7 L512.5 1279.0 L510.7 1282.3 z"/>
<path d="M511.8 1282.7 L514.0 1279.5 L516.5 1276.6 L519.4 1274.0 L522.7 1271.6 L526.2 1269.6 L530.1 1268.0 L534.2 1266.7 L538.5 1265.9 L543.0 1265.5 L547.7 1265.6 L548.8 1267.5 L544.2 1267.2 L539.7 1267.4 L535.3 1268.0 L531.2 1269.0 L527.3 1270.5 L523.6 1272.3 L520.2 1274.5 L517.2 1277.0 L514.5 1279.8 L512.2 1282.9 z"/>
<path d="M513.2 1283.4 L515.9 1280.7 L518.9 1278.2 L522.2 1276.1 L525.8 1274.3 L529.6 1272.9 L533.7 1271.9 L537.9 1271.4 L542.3 1271.3 L546.8 1271.6 L551.4 1272.4 L552.2 1274.5 L547.7 1273.4 L543.2 1272.9 L538.8 1272.8 L534.6 1273.1 L530.4 1273.9 L526.5 1275.1 L522.9 1276.7 L519.5 1278.7 L516.4 1281.0 L513.6 1283.7 z"/>
<path d="M514.5 1284.4 L517.5 1282.1 L520.9 1280.1 L524.5 1278.6 L528.3 1277.4 L532.4 1276.7 L536.5 1276.4 L540.8 1276.5 L545.2 1277.2 L549.6 1278.2 L553.9 1279.8 L554.4 1282.0 L550.1 1280.2 L545.8 1278.9 L541.5 1278.1 L537.2 1277.7 L533.0 1277.8 L529.0 1278.4 L525.1 1279.4 L521.4 1280.7 L518.0 1282.5 L514.8 1284.7 z"/>
<path d="M515.6 1285.5 L519.0 1283.7 L522.6 1282.4 L526.4 1281.4 L530.4 1280.9 L534.5 1280.9 L538.6 1281.2 L542.8 1282.1 L547.0 1283.4 L551.2 1285.2 L555.2 1287.5 L555.4 1289.7 L551.4 1287.2 L547.4 1285.3 L543.2 1283.7 L539.1 1282.7 L535.0 1282.1 L530.9 1282.0 L526.9 1282.3 L523.0 1283.1 L519.3 1284.3 L515.8 1285.8 z"/>
<path d="M516.4 1286.8 L520.1 1285.6 L523.9 1284.9 L527.8 1284.6 L531.8 1284.7 L535.9 1285.3 L539.9 1286.4 L543.9 1287.9 L547.8 1289.9 L551.6 1292.4 L555.3 1295.3 L555.0 1297.5 L551.5 1294.4 L547.9 1291.8 L544.0 1289.6 L540.1 1287.9 L536.1 1286.6 L532.1 1285.8 L528.1 1285.5 L524.2 1285.6 L520.4 1286.2 L516.7 1287.2 z"/>
<path d="M517.1 1288.2 L520.9 1287.7 L524.8 1287.5 L528.7 1287.9 L532.6 1288.7 L536.5 1290.0 L540.3 1291.7 L544.0 1293.9 L547.6 1296.5 L550.9 1299.5 L554.0 1303.0 L553.4 1305.1 L550.5 1301.5 L547.3 1298.3 L543.9 1295.5 L540.3 1293.2 L536.6 1291.3 L532.7 1289.8 L528.8 1288.9 L524.9 1288.3 L521.1 1288.3 L517.3 1288.6 z"/>
<path d="M517.5 1289.7 L521.4 1289.8 L525.2 1290.3 L529.0 1291.3 L532.8 1292.8 L536.4 1294.6 L539.9 1297.0 L543.1 1299.7 L546.2 1302.9 L549.0 1306.5 L551.5 1310.4 L550.5 1312.4 L548.2 1308.3 L545.6 1304.7 L542.7 1301.4 L539.6 1298.4 L536.2 1296.0 L532.7 1293.9 L529.0 1292.3 L525.2 1291.1 L521.4 1290.4 L517.6 1290.2 z"/>
</g>
<circle cx="508.2" cy="1291.5" r="4.6" fill="#f4f6f6"/>
<rect x="485" y="1323.3" width="7.5" height="2.6" rx="1" fill="#4a4f57"/><rect x="558" y="1323.3" width="7.5" height="2.6" rx="1" fill="#4a4f57"/>
<text transform="translate(593.4 1256.4) rotate(-90) scale(.7 1)" font-size="10.5" fill="#4a4f57" text-anchor="middle">C</text>
<g fill="none" stroke="#7d838b" stroke-width="1.2">
<rect x="614.3" y="1201.5" width="39.7" height="121.5"/>
<line x1="610" y1="1323.3" x2="658" y2="1323.3" stroke-width="1.6"/>
<line x1="614.3" y1="1204" x2="654" y2="1204"/>
</g>
<g fill="#4a4f57">
<rect x="619" y="1205.5" width="13" height="3.2"/><rect x="635" y="1205.5" width="13" height="3.2"/>
<rect x="619" y="1211.0" width="13" height="3.2"/><rect x="635" y="1211.0" width="13" height="3.2"/>
<rect x="619" y="1216.5" width="13" height="3.2"/><rect x="635" y="1216.5" width="13" height="3.2"/>
<rect x="619" y="1221.9" width="13" height="3.2"/><rect x="635" y="1221.9" width="13" height="3.2"/>
<rect x="619" y="1227.4" width="13" height="3.2"/><rect x="635" y="1227.4" width="13" height="3.2"/>
<rect x="619" y="1232.9" width="13" height="3.2"/><rect x="635" y="1232.9" width="13" height="3.2"/>
<rect x="619" y="1238.4" width="13" height="3.2"/><rect x="635" y="1238.4" width="13" height="3.2"/>
<rect x="619" y="1243.8" width="13" height="3.2"/><rect x="635" y="1243.8" width="13" height="3.2"/>
<rect x="619" y="1249.3" width="13" height="3.2"/><rect x="635" y="1249.3" width="13" height="3.2"/>
<rect x="619" y="1254.8" width="13" height="3.2"/><rect x="635" y="1254.8" width="13" height="3.2"/>
<rect x="619" y="1260.3" width="13" height="3.2"/><rect x="635" y="1260.3" width="13" height="3.2"/>
<rect x="619" y="1265.7" width="13" height="3.2"/><rect x="635" y="1265.7" width="13" height="3.2"/>
<rect x="619" y="1271.2" width="13" height="3.2"/><rect x="635" y="1271.2" width="13" height="3.2"/>
<rect x="619" y="1276.7" width="13" height="3.2"/><rect x="635" y="1276.7" width="13" height="3.2"/>
<rect x="619" y="1282.2" width="13" height="3.2"/><rect x="635" y="1282.2" width="13" height="3.2"/>
<rect x="619" y="1287.6" width="13" height="3.2"/><rect x="635" y="1287.6" width="13" height="3.2"/>
<rect x="619" y="1293.1" width="13" height="3.2"/><rect x="635" y="1293.1" width="13" height="3.2"/>
<rect x="619" y="1298.6" width="13" height="3.2"/><rect x="635" y="1298.6" width="13" height="3.2"/>
<rect x="619" y="1304.1" width="13" height="3.2"/><rect x="635" y="1304.1" width="13" height="3.2"/>
<rect x="619" y="1309.5" width="13" height="3.2"/><rect x="635" y="1309.5" width="13" height="3.2"/>
<rect x="619" y="1315.0" width="13" height="3.2"/><rect x="635" y="1315.0" width="13" height="3.2"/>
<rect x="632.6" y="1205" width="1.8" height="116"/><rect x="618" y="1205" width="1.2" height="116"/><rect x="647.6" y="1205" width="1.2" height="116"/>
</g>
<g fill="none" stroke="#7d838b" stroke-width="1.2">
<rect x="471.6" y="1344" width="108.6" height="33.7"/>
<path d="M464.5 1343.5V1378.2M464.5 1344H471.6M464.5 1377.7H471.6" stroke-width="1"/>
<path d="M471.6 1378V1392.5M580.2 1378V1392.5M471.6 1391.5H580.2" stroke-width="1"/>
</g>
<g fill="#4a4f57"><rect x="485" y="1340.3" width="8" height="3.6" rx="1.5"/><rect x="558" y="1340.3" width="8" height="3.6" rx="1.5"/><rect x="485" y="1377.8" width="8" height="3.6" rx="1.5"/><rect x="558" y="1377.8" width="8" height="3.6" rx="1.5"/></g>
<text transform="translate(463 1361) rotate(-90)" font-size="9" fill="#4a4f57" text-anchor="middle">B</text>
<text x="528" y="1390.5" font-size="10" fill="#4a4f57" text-anchor="middle">A</text>
</svg>
<div id="f1" class="abs">
<div class="abs fh">性能特点：</div>
<div class="abs fe">Performance characteristic：</div>
<ul class="abs">
<li>值热恒温出水，自动循环保温，水温更稳定，用户更放心。</li>
<li>采用微电脑全自动控制，停电记忆功能，使用更放心</li>
<li>完善的故障自检和保护功能，运行更可靠。</li>
<li>先进的化霜技术，化霜更安全，效率更高。</li>
<li>低静音运行，对环境无任何污染。</li>
<li>全部采用世界著名品牌配件，机组寿命更长。</li>
</ul>
</div>
<div id="f2" class="abs">
<div class="abs fh">适用范围</div>
<div class="abs fe">Suitable for</div>
<div class="abs fc">员工宿舍、学生宿舍、宾馆、酒店、桑拿<br>娱乐中心、大型会所、恒温泳池、洗衣<br>店、餐厅、酒楼、养殖场等。</div>
<div class="abs fn">Worker dormitory. student dormitory.<br>guesthouse. hotel entertainment center.<br>big chamber constant temperature pool.<br>laundry shop. restaurant and culture<br>farm.</div>
</div>

</body>
</html>
